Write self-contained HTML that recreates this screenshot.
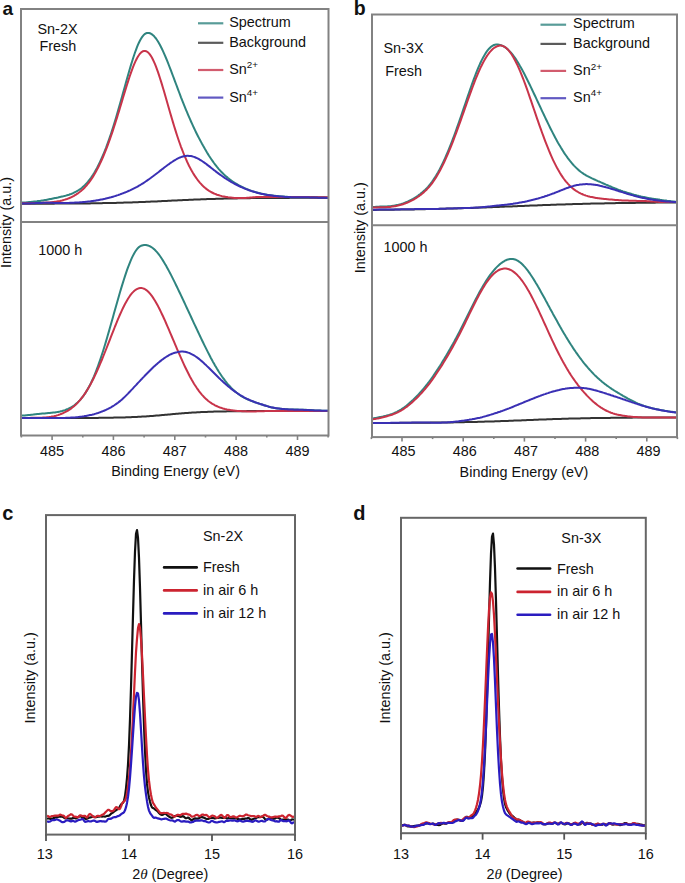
<!DOCTYPE html>
<html><head><meta charset="utf-8"><style>
html,body{margin:0;padding:0;background:#fff;}
svg{display:block;font-family:"Liberation Sans", sans-serif;fill:#000;}
text{fill:#111;}
</style></head><body>
<svg width="685" height="883" viewBox="0 0 685 883"><rect width="685" height="883" fill="#fff"/><path d="M21.0 202.7L22.0 202.6L23.0 202.6L24.0 202.5L25.0 202.4L26.0 202.4L27.0 202.3L28.0 202.2L29.0 202.1L30.0 202.0L31.0 201.9L32.0 201.8L33.0 201.7L34.0 201.6L35.0 201.5L36.0 201.4L37.0 201.3L38.0 201.1L39.0 201.0L40.0 200.9L41.0 200.7L42.0 200.5L43.0 200.4L44.0 200.2L45.0 200.0L46.0 199.9L47.0 199.7L48.0 199.5L49.0 199.3L50.0 199.1L51.0 198.9L52.0 198.7L53.0 198.5L54.0 198.3L55.0 198.1L56.0 197.9L57.0 197.7L58.0 197.5L59.0 197.2L60.0 197.0L61.0 196.8L62.0 196.6L63.0 196.4L64.0 196.1L65.0 195.9L66.0 195.6L67.0 195.3L68.0 195.0L69.0 194.7L70.0 194.3L71.0 194.0L72.0 193.6L73.0 193.2L74.0 192.7L75.0 192.2L76.0 191.7L77.0 191.1L78.0 190.5L79.0 189.9L80.0 189.2L81.0 188.5L82.0 187.7L83.0 186.8L84.0 185.9L85.0 185.0L86.0 183.9L87.0 182.8L88.0 181.7L89.0 180.4L90.0 179.1L91.0 177.8L92.0 176.3L93.0 174.8L94.0 173.2L95.0 171.5L96.0 169.7L97.0 167.9L98.0 166.0L99.0 164.0L100.0 161.9L101.0 159.7L102.0 157.5L103.0 155.2L104.0 152.8L105.0 150.3L106.0 147.8L107.0 145.1L108.0 142.4L109.0 139.6L110.0 136.7L111.0 133.7L112.0 130.6L113.0 127.5L114.0 124.3L115.0 121.0L116.0 117.7L117.0 114.3L118.0 110.8L119.0 107.4L120.0 103.8L121.0 100.3L122.0 96.7L123.0 93.1L124.0 89.5L125.0 85.9L126.0 82.3L127.0 78.7L128.0 75.2L129.0 71.7L130.0 68.3L131.0 64.9L132.0 61.7L133.0 58.5L134.0 55.5L135.0 52.5L136.0 49.8L137.0 47.2L138.0 44.7L139.0 42.5L140.0 40.5L141.0 38.7L142.0 37.1L143.0 35.8L144.0 34.7L145.0 33.9L146.0 33.3L147.0 33.0L148.0 32.9L149.0 33.0L150.0 33.3L151.0 33.7L152.0 34.4L153.0 35.2L154.0 36.1L155.0 37.3L156.0 38.5L157.0 40.0L158.0 41.5L159.0 43.2L160.0 45.0L161.0 47.0L162.0 49.0L163.0 51.1L164.0 53.3L165.0 55.6L166.0 58.0L167.0 60.4L168.0 62.9L169.0 65.5L170.0 68.1L171.0 70.7L172.0 73.3L173.0 76.0L174.0 78.7L175.0 81.3L176.0 84.0L177.0 86.7L178.0 89.4L179.0 92.0L180.0 94.6L181.0 97.3L182.0 99.8L183.0 102.4L184.0 104.9L185.0 107.4L186.0 109.8L187.0 112.2L188.0 114.6L189.0 116.9L190.0 119.2L191.0 121.5L192.0 123.7L193.0 125.9L194.0 128.0L195.0 130.1L196.0 132.2L197.0 134.2L198.0 136.2L199.0 138.1L200.0 140.0L201.0 141.9L202.0 143.8L203.0 145.6L204.0 147.3L205.0 149.1L206.0 150.8L207.0 152.5L208.0 154.1L209.0 155.7L210.0 157.2L211.0 158.7L212.0 160.2L213.0 161.6L214.0 163.0L215.0 164.3L216.0 165.6L217.0 166.9L218.0 168.1L219.0 169.3L220.0 170.4L221.0 171.5L222.0 172.5L223.0 173.5L224.0 174.5L225.0 175.4L226.0 176.3L227.0 177.1L228.0 178.0L229.0 178.8L230.0 179.6L231.0 180.3L232.0 181.0L233.0 181.7L234.0 182.4L235.0 183.0L236.0 183.6L237.0 184.2L238.0 184.8L239.0 185.4L240.0 185.9L241.0 186.4L242.0 186.9L243.0 187.4L244.0 187.9L245.0 188.3L246.0 188.8L247.0 189.2L248.0 189.6L249.0 190.0L250.0 190.4L251.0 190.7L252.0 191.1L253.0 191.4L254.0 191.7L255.0 192.0L256.0 192.3L257.0 192.6L258.0 192.8L259.0 193.1L260.0 193.3L261.0 193.6L262.0 193.8L263.0 194.0L264.0 194.2L265.0 194.4L266.0 194.5L267.0 194.7L268.0 194.9L269.0 195.0L270.0 195.2L271.0 195.3L272.0 195.5L273.0 195.6L274.0 195.7L275.0 195.8L276.0 195.9L277.0 196.0L278.0 196.1L279.0 196.2L280.0 196.3L281.0 196.4L282.0 196.5L283.0 196.6L284.0 196.6L285.0 196.7L286.0 196.8L287.0 196.8L288.0 196.9L289.0 196.9L290.0 197.0L291.0 197.0L292.0 197.0L293.0 197.1L294.0 197.1L295.0 197.1L296.0 197.1L297.0 197.1L298.0 197.1L299.0 197.1L300.0 197.1L301.0 197.1L302.0 197.0L303.0 197.0L304.0 197.0L305.0 196.9L306.0 196.9L307.0 196.9L308.0 196.9L309.0 196.9L310.0 196.9L311.0 197.0L312.0 197.0L313.0 197.1L314.0 197.1L315.0 197.2L316.0 197.3L317.0 197.3L318.0 197.4L319.0 197.4L320.0 197.5L321.0 197.5L322.0 197.6L323.0 197.6L324.0 197.6L325.0 197.7L326.0 197.7L327.0 197.7L328.0 197.7" fill="none" stroke="#2f847f" stroke-width="2" stroke-linejoin="round"/><path d="M21.0 203.7L22.0 203.7L23.0 203.7L24.0 203.7L25.0 203.7L26.0 203.7L27.0 203.7L28.0 203.7L29.0 203.7L30.0 203.7L31.0 203.7L32.0 203.7L33.0 203.7L34.0 203.7L35.0 203.7L36.0 203.7L37.0 203.7L38.0 203.7L39.0 203.7L40.0 203.7L41.0 203.7L42.0 203.7L43.0 203.7L44.0 203.7L45.0 203.7L46.0 203.7L47.0 203.7L48.0 203.7L49.0 203.7L50.0 203.7L51.0 203.7L52.0 203.7L53.0 203.7L54.0 203.7L55.0 203.6L56.0 203.6L57.0 203.6L58.0 203.6L59.0 203.6L60.0 203.6L61.0 203.6L62.0 203.6L63.0 203.6L64.0 203.6L65.0 203.6L66.0 203.6L67.0 203.6L68.0 203.6L69.0 203.6L70.0 203.6L71.0 203.5L72.0 203.5L73.0 203.5L74.0 203.5L75.0 203.5L76.0 203.5L77.0 203.5L78.0 203.5L79.0 203.5L80.0 203.5L81.0 203.5L82.0 203.4L83.0 203.4L84.0 203.4L85.0 203.4L86.0 203.4L87.0 203.4L88.0 203.4L89.0 203.4L90.0 203.4L91.0 203.3L92.0 203.3L93.0 203.3L94.0 203.3L95.0 203.3L96.0 203.3L97.0 203.3L98.0 203.2L99.0 203.2L100.0 203.2L101.0 203.2L102.0 203.2L103.0 203.1L104.0 203.1L105.0 203.1L106.0 203.1L107.0 203.1L108.0 203.0L109.0 203.0L110.0 203.0L111.0 203.0L112.0 203.0L113.0 202.9L114.0 202.9L115.0 202.9L116.0 202.9L117.0 202.8L118.0 202.8L119.0 202.8L120.0 202.8L121.0 202.7L122.0 202.7L123.0 202.7L124.0 202.6L125.0 202.6L126.0 202.6L127.0 202.5L128.0 202.5L129.0 202.5L130.0 202.5L131.0 202.4L132.0 202.4L133.0 202.3L134.0 202.3L135.0 202.3L136.0 202.2L137.0 202.2L138.0 202.2L139.0 202.1L140.0 202.1L141.0 202.0L142.0 202.0L143.0 202.0L144.0 201.9L145.0 201.9L146.0 201.8L147.0 201.8L148.0 201.8L149.0 201.7L150.0 201.7L151.0 201.6L152.0 201.6L153.0 201.5L154.0 201.5L155.0 201.4L156.0 201.4L157.0 201.4L158.0 201.3L159.0 201.3L160.0 201.2L161.0 201.2L162.0 201.1L163.0 201.1L164.0 201.0L165.0 201.0L166.0 200.9L167.0 200.9L168.0 200.8L169.0 200.8L170.0 200.7L171.0 200.7L172.0 200.6L173.0 200.6L174.0 200.5L175.0 200.5L176.0 200.4L177.0 200.4L178.0 200.3L179.0 200.3L180.0 200.2L181.0 200.2L182.0 200.2L183.0 200.1L184.0 200.1L185.0 200.0L186.0 200.0L187.0 199.9L188.0 199.9L189.0 199.8L190.0 199.8L191.0 199.7L192.0 199.7L193.0 199.7L194.0 199.6L195.0 199.6L196.0 199.5L197.0 199.5L198.0 199.5L199.0 199.4L200.0 199.4L201.0 199.3L202.0 199.3L203.0 199.3L204.0 199.2L205.0 199.2L206.0 199.2L207.0 199.1L208.0 199.1L209.0 199.1L210.0 199.0L211.0 199.0L212.0 199.0L213.0 198.9L214.0 198.9L215.0 198.9L216.0 198.8L217.0 198.8L218.0 198.8L219.0 198.8L220.0 198.7L221.0 198.7L222.0 198.7L223.0 198.7L224.0 198.6L225.0 198.6L226.0 198.6L227.0 198.6L228.0 198.5L229.0 198.5L230.0 198.5L231.0 198.5L232.0 198.4L233.0 198.4L234.0 198.4L235.0 198.4L236.0 198.4L237.0 198.4L238.0 198.3L239.0 198.3L240.0 198.3L241.0 198.3L242.0 198.3L243.0 198.3L244.0 198.2L245.0 198.2L246.0 198.2L247.0 198.2L248.0 198.2L249.0 198.2L250.0 198.2L251.0 198.1L252.0 198.1L253.0 198.1L254.0 198.1L255.0 198.1L256.0 198.1L257.0 198.1L258.0 198.1L259.0 198.1L260.0 198.0L261.0 198.0L262.0 198.0L263.0 198.0L264.0 198.0L265.0 198.0L266.0 198.0L267.0 198.0L268.0 198.0L269.0 198.0L270.0 198.0L271.0 197.9L272.0 197.9L273.0 197.9L274.0 197.9L275.0 197.9L276.0 197.9L277.0 197.9L278.0 197.9L279.0 197.9L280.0 197.9L281.0 197.9L282.0 197.9L283.0 197.9L284.0 197.9L285.0 197.9L286.0 197.9L287.0 197.9L288.0 197.9L289.0 197.9L290.0 197.8L291.0 197.8L292.0 197.8L293.0 197.8L294.0 197.8L295.0 197.8L296.0 197.8L297.0 197.8L298.0 197.8L299.0 197.8L300.0 197.8L301.0 197.8L302.0 197.8L303.0 197.8L304.0 197.8L305.0 197.8L306.0 197.8L307.0 197.8L308.0 197.8L309.0 197.8L310.0 197.8L311.0 197.8L312.0 197.8L313.0 197.8L314.0 197.8L315.0 197.8L316.0 197.8L317.0 197.8L318.0 197.8L319.0 197.8L320.0 197.8L321.0 197.8L322.0 197.8L323.0 197.8L324.0 197.8L325.0 197.8L326.0 197.8L327.0 197.8L328.0 197.8" fill="none" stroke="#333333" stroke-width="2" stroke-linejoin="round"/><path d="M21.0 203.3L22.0 203.3L23.0 203.3L24.0 203.3L25.0 203.3L26.0 203.3L27.0 203.2L28.0 203.2L29.0 203.2L30.0 203.2L31.0 203.2L32.0 203.1L33.0 203.1L34.0 203.1L35.0 203.1L36.0 203.0L37.0 203.0L38.0 203.0L39.0 202.9L40.0 202.9L41.0 202.9L42.0 202.8L43.0 202.8L44.0 202.7L45.0 202.7L46.0 202.6L47.0 202.6L48.0 202.5L49.0 202.4L50.0 202.4L51.0 202.3L52.0 202.2L53.0 202.1L54.0 202.0L55.0 201.8L56.0 201.7L57.0 201.5L58.0 201.3L59.0 201.2L60.0 201.0L61.0 200.7L62.0 200.5L63.0 200.2L64.0 199.9L65.0 199.6L66.0 199.3L67.0 199.0L68.0 198.6L69.0 198.2L70.0 197.8L71.0 197.3L72.0 196.8L73.0 196.3L74.0 195.8L75.0 195.2L76.0 194.6L77.0 193.9L78.0 193.3L79.0 192.5L80.0 191.8L81.0 191.0L82.0 190.1L83.0 189.2L84.0 188.2L85.0 187.2L86.0 186.1L87.0 185.0L88.0 183.7L89.0 182.5L90.0 181.1L91.0 179.7L92.0 178.2L93.0 176.6L94.0 175.0L95.0 173.3L96.0 171.5L97.0 169.6L98.0 167.7L99.0 165.7L100.0 163.6L101.0 161.5L102.0 159.3L103.0 157.0L104.0 154.6L105.0 152.1L106.0 149.6L107.0 147.1L108.0 144.4L109.0 141.7L110.0 138.9L111.0 136.0L112.0 133.1L113.0 130.1L114.0 127.0L115.0 123.9L116.0 120.8L117.0 117.6L118.0 114.3L119.0 111.1L120.0 107.8L121.0 104.5L122.0 101.1L123.0 97.8L124.0 94.5L125.0 91.2L126.0 88.0L127.0 84.8L128.0 81.6L129.0 78.5L130.0 75.5L131.0 72.6L132.0 69.9L133.0 67.2L134.0 64.7L135.0 62.4L136.0 60.2L137.0 58.2L138.0 56.5L139.0 55.0L140.0 53.7L141.0 52.6L142.0 51.8L143.0 51.2L144.0 51.0L145.0 50.9L146.0 51.2L147.0 51.7L148.0 52.4L149.0 53.4L150.0 54.7L151.0 56.1L152.0 57.8L153.0 59.8L154.0 61.9L155.0 64.2L156.0 66.7L157.0 69.4L158.0 72.2L159.0 75.1L160.0 78.2L161.0 81.4L162.0 84.6L163.0 88.0L164.0 91.3L165.0 94.8L166.0 98.3L167.0 101.8L168.0 105.2L169.0 108.7L170.0 112.2L171.0 115.6L172.0 119.1L173.0 122.4L174.0 125.7L175.0 128.9L176.0 132.1L177.0 135.2L178.0 138.2L179.0 141.2L180.0 144.0L181.0 146.8L182.0 149.4L183.0 152.0L184.0 154.5L185.0 156.9L186.0 159.2L187.0 161.5L188.0 163.6L189.0 165.7L190.0 167.6L191.0 169.5L192.0 171.3L193.0 173.0L194.0 174.6L195.0 176.2L196.0 177.6L197.0 179.0L198.0 180.4L199.0 181.6L200.0 182.8L201.0 183.9L202.0 185.0L203.0 186.0L204.0 186.9L205.0 187.8L206.0 188.6L207.0 189.4L208.0 190.1L209.0 190.8L210.0 191.4L211.0 192.0L212.0 192.5L213.0 193.0L214.0 193.5L215.0 193.9L216.0 194.3L217.0 194.7L218.0 195.0L219.0 195.3L220.0 195.6L221.0 195.9L222.0 196.2L223.0 196.4L224.0 196.6L225.0 196.8L226.0 197.0L227.0 197.1L228.0 197.3L229.0 197.4L230.0 197.5L231.0 197.6L232.0 197.7L233.0 197.8L234.0 197.9L235.0 197.9L236.0 198.0L237.0 198.0L238.0 198.0L239.0 198.1L240.0 198.1L241.0 198.1L242.0 198.1L243.0 198.0L244.0 198.0L245.0 198.0L246.0 197.9L247.0 197.8L248.0 197.8L249.0 197.7L250.0 197.6L251.0 197.5L252.0 197.4L253.0 197.3L254.0 197.3L255.0 197.2L256.0 197.1L257.0 197.0L258.0 197.0L259.0 197.0L260.0 196.9L261.0 196.9L262.0 196.9L263.0 196.9L264.0 196.9L265.0 196.9L266.0 196.9L267.0 196.9L268.0 196.9L269.0 196.9L270.0 196.9L271.0 196.9L272.0 196.9L273.0 196.9L274.0 196.9L275.0 196.9L276.0 196.9L277.0 196.9L278.0 196.9L279.0 196.9L280.0 197.0L281.0 197.0L282.0 197.0L283.0 197.0L284.0 197.0L285.0 197.0L286.0 197.0L287.0 197.0L288.0 197.0L289.0 197.0L290.0 197.0L291.0 197.0L292.0 197.0L293.0 197.0L294.0 197.1L295.0 197.1L296.0 197.1L297.0 197.1L298.0 197.1L299.0 197.1L300.0 197.1L301.0 197.1L302.0 197.1L303.0 197.1L304.0 197.1L305.0 197.1L306.0 197.1L307.0 197.1L308.0 197.1L309.0 197.1L310.0 197.1L311.0 197.2L312.0 197.2L313.0 197.2L314.0 197.2L315.0 197.2L316.0 197.2L317.0 197.2L318.0 197.2L319.0 197.2L320.0 197.2L321.0 197.2L322.0 197.2L323.0 197.2L324.0 197.2L325.0 197.2L326.0 197.2L327.0 197.2L328.0 197.2" fill="none" stroke="#c8344a" stroke-width="2" stroke-linejoin="round"/><path d="M21.0 203.5L22.0 203.5L23.0 203.5L24.0 203.5L25.0 203.5L26.0 203.5L27.0 203.4L28.0 203.4L29.0 203.4L30.0 203.4L31.0 203.3L32.0 203.3L33.0 203.3L34.0 203.2L35.0 203.2L36.0 203.1L37.0 203.1L38.0 203.1L39.0 203.0L40.0 203.0L41.0 202.9L42.0 202.9L43.0 202.8L44.0 202.8L45.0 202.8L46.0 202.7L47.0 202.7L48.0 202.7L49.0 202.7L50.0 202.7L51.0 202.8L52.0 202.8L53.0 202.8L54.0 202.9L55.0 202.9L56.0 202.9L57.0 202.9L58.0 203.0L59.0 203.0L60.0 203.0L61.0 203.0L62.0 203.0L63.0 203.0L64.0 203.0L65.0 203.0L66.0 202.9L67.0 202.9L68.0 202.9L69.0 202.9L70.0 202.8L71.0 202.8L72.0 202.8L73.0 202.7L74.0 202.7L75.0 202.6L76.0 202.6L77.0 202.5L78.0 202.4L79.0 202.4L80.0 202.3L81.0 202.2L82.0 202.2L83.0 202.1L84.0 202.0L85.0 201.9L86.0 201.8L87.0 201.7L88.0 201.6L89.0 201.5L90.0 201.4L91.0 201.2L92.0 201.1L93.0 201.0L94.0 200.8L95.0 200.7L96.0 200.5L97.0 200.3L98.0 200.2L99.0 200.0L100.0 199.8L101.0 199.6L102.0 199.4L103.0 199.2L104.0 199.0L105.0 198.8L106.0 198.5L107.0 198.3L108.0 198.1L109.0 197.8L110.0 197.5L111.0 197.3L112.0 197.0L113.0 196.7L114.0 196.4L115.0 196.1L116.0 195.8L117.0 195.4L118.0 195.1L119.0 194.7L120.0 194.4L121.0 194.0L122.0 193.6L123.0 193.3L124.0 192.9L125.0 192.5L126.0 192.1L127.0 191.7L128.0 191.2L129.0 190.8L130.0 190.4L131.0 189.9L132.0 189.4L133.0 188.9L134.0 188.4L135.0 187.9L136.0 187.4L137.0 186.9L138.0 186.3L139.0 185.7L140.0 185.2L141.0 184.5L142.0 183.9L143.0 183.3L144.0 182.7L145.0 182.0L146.0 181.3L147.0 180.6L148.0 179.9L149.0 179.2L150.0 178.5L151.0 177.8L152.0 177.0L153.0 176.3L154.0 175.5L155.0 174.8L156.0 174.0L157.0 173.2L158.0 172.5L159.0 171.7L160.0 170.9L161.0 170.1L162.0 169.3L163.0 168.6L164.0 167.8L165.0 167.0L166.0 166.3L167.0 165.5L168.0 164.8L169.0 164.1L170.0 163.3L171.0 162.6L172.0 162.0L173.0 161.3L174.0 160.7L175.0 160.1L176.0 159.5L177.0 158.9L178.0 158.4L179.0 157.9L180.0 157.5L181.0 157.1L182.0 156.8L183.0 156.5L184.0 156.2L185.0 156.0L186.0 155.9L187.0 155.8L188.0 155.8L189.0 155.9L190.0 155.9L191.0 156.1L192.0 156.3L193.0 156.6L194.0 156.9L195.0 157.3L196.0 157.7L197.0 158.1L198.0 158.6L199.0 159.2L200.0 159.8L201.0 160.4L202.0 161.0L203.0 161.7L204.0 162.4L205.0 163.1L206.0 163.8L207.0 164.6L208.0 165.4L209.0 166.1L210.0 166.9L211.0 167.7L212.0 168.5L213.0 169.3L214.0 170.1L215.0 170.8L216.0 171.6L217.0 172.4L218.0 173.1L219.0 173.9L220.0 174.6L221.0 175.3L222.0 176.0L223.0 176.7L224.0 177.4L225.0 178.1L226.0 178.7L227.0 179.4L228.0 180.0L229.0 180.6L230.0 181.2L231.0 181.8L232.0 182.4L233.0 182.9L234.0 183.5L235.0 184.0L236.0 184.5L237.0 185.0L238.0 185.5L239.0 186.0L240.0 186.5L241.0 187.0L242.0 187.4L243.0 187.8L244.0 188.2L245.0 188.7L246.0 189.1L247.0 189.4L248.0 189.8L249.0 190.2L250.0 190.5L251.0 190.9L252.0 191.2L253.0 191.5L254.0 191.8L255.0 192.1L256.0 192.4L257.0 192.7L258.0 193.0L259.0 193.2L260.0 193.4L261.0 193.7L262.0 193.9L263.0 194.1L264.0 194.3L265.0 194.5L266.0 194.7L267.0 194.9L268.0 195.0L269.0 195.2L270.0 195.3L271.0 195.5L272.0 195.6L273.0 195.7L274.0 195.9L275.0 196.0L276.0 196.1L277.0 196.2L278.0 196.3L279.0 196.4L280.0 196.5L281.0 196.6L282.0 196.6L283.0 196.7L284.0 196.8L285.0 196.9L286.0 196.9L287.0 197.0L288.0 197.0L289.0 197.1L290.0 197.1L291.0 197.2L292.0 197.2L293.0 197.2L294.0 197.3L295.0 197.3L296.0 197.3L297.0 197.3L298.0 197.3L299.0 197.3L300.0 197.3L301.0 197.3L302.0 197.3L303.0 197.3L304.0 197.3L305.0 197.3L306.0 197.3L307.0 197.3L308.0 197.3L309.0 197.3L310.0 197.4L311.0 197.4L312.0 197.4L313.0 197.5L314.0 197.5L315.0 197.5L316.0 197.6L317.0 197.6L318.0 197.7L319.0 197.7L320.0 197.7L321.0 197.7L322.0 197.8L323.0 197.8L324.0 197.8L325.0 197.8L326.0 197.8L327.0 197.9L328.0 197.9" fill="none" stroke="#3a30b4" stroke-width="2" stroke-linejoin="round"/><path d="M21.0 415.7L22.0 415.6L23.0 415.5L24.0 415.5L25.0 415.4L26.0 415.3L27.0 415.2L28.0 415.1L29.0 415.0L30.0 414.9L31.0 414.8L32.0 414.7L33.0 414.6L34.0 414.4L35.0 414.3L36.0 414.2L37.0 414.1L38.0 414.0L39.0 413.9L40.0 413.8L41.0 413.7L42.0 413.6L43.0 413.5L44.0 413.4L45.0 413.4L46.0 413.3L47.0 413.2L48.0 413.1L49.0 413.0L50.0 412.9L51.0 412.8L52.0 412.7L53.0 412.6L54.0 412.5L55.0 412.4L56.0 412.2L57.0 412.1L58.0 411.9L59.0 411.7L60.0 411.5L61.0 411.2L62.0 411.0L63.0 410.7L64.0 410.4L65.0 410.1L66.0 409.7L67.0 409.3L68.0 408.9L69.0 408.4L70.0 407.9L71.0 407.4L72.0 406.8L73.0 406.2L74.0 405.5L75.0 404.7L76.0 403.9L77.0 403.1L78.0 402.1L79.0 401.1L80.0 400.1L81.0 398.9L82.0 397.7L83.0 396.4L84.0 395.0L85.0 393.6L86.0 392.0L87.0 390.4L88.0 388.6L89.0 386.8L90.0 384.9L91.0 382.9L92.0 380.8L93.0 378.6L94.0 376.3L95.0 373.8L96.0 371.3L97.0 368.7L98.0 366.0L99.0 363.2L100.0 360.3L101.0 357.4L102.0 354.3L103.0 351.2L104.0 348.0L105.0 344.7L106.0 341.4L107.0 338.0L108.0 334.5L109.0 331.1L110.0 327.6L111.0 324.0L112.0 320.5L113.0 316.9L114.0 313.3L115.0 309.8L116.0 306.2L117.0 302.7L118.0 299.2L119.0 295.7L120.0 292.3L121.0 288.9L122.0 285.6L123.0 282.4L124.0 279.2L125.0 276.1L126.0 273.1L127.0 270.2L128.0 267.4L129.0 264.8L130.0 262.3L131.0 259.9L132.0 257.7L133.0 255.6L134.0 253.7L135.0 252.0L136.0 250.5L137.0 249.1L138.0 248.0L139.0 247.1L140.0 246.3L141.0 245.8L142.0 245.5L143.0 245.2L144.0 245.1L145.0 245.1L146.0 245.1L147.0 245.3L148.0 245.5L149.0 245.9L150.0 246.3L151.0 246.9L152.0 247.5L153.0 248.3L154.0 249.1L155.0 250.0L156.0 251.1L157.0 252.2L158.0 253.4L159.0 254.7L160.0 256.0L161.0 257.5L162.0 259.0L163.0 260.6L164.0 262.2L165.0 263.9L166.0 265.6L167.0 267.4L168.0 269.2L169.0 271.1L170.0 273.0L171.0 274.9L172.0 276.9L173.0 278.9L174.0 280.9L175.0 282.9L176.0 285.0L177.0 287.0L178.0 289.1L179.0 291.2L180.0 293.3L181.0 295.4L182.0 297.5L183.0 299.7L184.0 301.8L185.0 303.9L186.0 306.1L187.0 308.2L188.0 310.4L189.0 312.5L190.0 314.7L191.0 316.8L192.0 319.0L193.0 321.1L194.0 323.3L195.0 325.4L196.0 327.5L197.0 329.7L198.0 331.8L199.0 333.9L200.0 336.0L201.0 338.1L202.0 340.2L203.0 342.3L204.0 344.4L205.0 346.4L206.0 348.4L207.0 350.4L208.0 352.4L209.0 354.3L210.0 356.3L211.0 358.2L212.0 360.0L213.0 361.9L214.0 363.6L215.0 365.4L216.0 367.1L217.0 368.8L218.0 370.4L219.0 372.0L220.0 373.5L221.0 375.0L222.0 376.5L223.0 377.9L224.0 379.2L225.0 380.6L226.0 381.8L227.0 383.1L228.0 384.3L229.0 385.4L230.0 386.5L231.0 387.6L232.0 388.6L233.0 389.6L234.0 390.5L235.0 391.4L236.0 392.2L237.0 393.0L238.0 393.8L239.0 394.5L240.0 395.2L241.0 395.9L242.0 396.5L243.0 397.0L244.0 397.6L245.0 398.1L246.0 398.6L247.0 399.1L248.0 399.5L249.0 399.9L250.0 400.4L251.0 400.8L252.0 401.1L253.0 401.5L254.0 401.9L255.0 402.2L256.0 402.6L257.0 402.9L258.0 403.2L259.0 403.6L260.0 403.9L261.0 404.2L262.0 404.5L263.0 404.9L264.0 405.2L265.0 405.5L266.0 405.8L267.0 406.1L268.0 406.4L269.0 406.7L270.0 407.0L271.0 407.3L272.0 407.5L273.0 407.7L274.0 407.9L275.0 408.1L276.0 408.2L277.0 408.4L278.0 408.5L279.0 408.6L280.0 408.7L281.0 408.8L282.0 408.9L283.0 409.0L284.0 409.1L285.0 409.2L286.0 409.2L287.0 409.3L288.0 409.3L289.0 409.4L290.0 409.4L291.0 409.5L292.0 409.5L293.0 409.5L294.0 409.6L295.0 409.6L296.0 409.6L297.0 409.6L298.0 409.6L299.0 409.7L300.0 409.7L301.0 409.7L302.0 409.7L303.0 409.7L304.0 409.7L305.0 409.8L306.0 409.8L307.0 409.9L308.0 409.9L309.0 410.0L310.0 410.1L311.0 410.1L312.0 410.2L313.0 410.3L314.0 410.3L315.0 410.4L316.0 410.4L317.0 410.5L318.0 410.5L319.0 410.6L320.0 410.6L321.0 410.6L322.0 410.7L323.0 410.7L324.0 410.7L325.0 410.7L326.0 410.7L327.0 410.8L328.0 410.8" fill="none" stroke="#2f847f" stroke-width="2" stroke-linejoin="round"/><path d="M21.0 418.0L22.0 418.0L23.0 418.0L24.0 418.0L25.0 418.0L26.0 418.0L27.0 418.0L28.0 418.0L29.0 418.0L30.0 418.0L31.0 418.0L32.0 418.0L33.0 418.0L34.0 418.0L35.0 418.0L36.0 418.0L37.0 418.0L38.0 418.0L39.0 418.0L40.0 418.0L41.0 418.0L42.0 418.0L43.0 418.0L44.0 418.0L45.0 418.0L46.0 418.0L47.0 418.0L48.0 418.0L49.0 418.0L50.0 418.0L51.0 418.0L52.0 418.0L53.0 418.0L54.0 418.0L55.0 418.0L56.0 418.0L57.0 418.0L58.0 418.0L59.0 418.0L60.0 418.0L61.0 418.0L62.0 418.0L63.0 418.0L64.0 418.0L65.0 418.0L66.0 418.0L67.0 418.0L68.0 418.0L69.0 418.0L70.0 418.0L71.0 418.0L72.0 418.0L73.0 418.0L74.0 418.0L75.0 418.0L76.0 418.0L77.0 418.0L78.0 418.0L79.0 418.0L80.0 418.0L81.0 418.0L82.0 418.0L83.0 418.0L84.0 417.9L85.0 417.9L86.0 417.9L87.0 417.9L88.0 417.9L89.0 417.9L90.0 417.9L91.0 417.9L92.0 417.9L93.0 417.9L94.0 417.9L95.0 417.9L96.0 417.9L97.0 417.9L98.0 417.9L99.0 417.8L100.0 417.8L101.0 417.8L102.0 417.8L103.0 417.8L104.0 417.8L105.0 417.8L106.0 417.8L107.0 417.8L108.0 417.7L109.0 417.7L110.0 417.7L111.0 417.7L112.0 417.7L113.0 417.7L114.0 417.6L115.0 417.6L116.0 417.6L117.0 417.6L118.0 417.6L119.0 417.5L120.0 417.5L121.0 417.5L122.0 417.5L123.0 417.4L124.0 417.4L125.0 417.4L126.0 417.3L127.0 417.3L128.0 417.3L129.0 417.2L130.0 417.2L131.0 417.2L132.0 417.1L133.0 417.1L134.0 417.0L135.0 417.0L136.0 416.9L137.0 416.9L138.0 416.8L139.0 416.8L140.0 416.7L141.0 416.7L142.0 416.6L143.0 416.6L144.0 416.5L145.0 416.4L146.0 416.4L147.0 416.3L148.0 416.2L149.0 416.2L150.0 416.1L151.0 416.0L152.0 415.9L153.0 415.9L154.0 415.8L155.0 415.7L156.0 415.6L157.0 415.5L158.0 415.5L159.0 415.4L160.0 415.3L161.0 415.2L162.0 415.1L163.0 415.0L164.0 414.9L165.0 414.8L166.0 414.7L167.0 414.7L168.0 414.6L169.0 414.5L170.0 414.4L171.0 414.3L172.0 414.2L173.0 414.1L174.0 414.0L175.0 413.9L176.0 413.8L177.0 413.8L178.0 413.7L179.0 413.6L180.0 413.5L181.0 413.4L182.0 413.3L183.0 413.3L184.0 413.2L185.0 413.1L186.0 413.0L187.0 412.9L188.0 412.9L189.0 412.8L190.0 412.7L191.0 412.7L192.0 412.6L193.0 412.5L194.0 412.5L195.0 412.4L196.0 412.4L197.0 412.3L198.0 412.3L199.0 412.2L200.0 412.2L201.0 412.1L202.0 412.1L203.0 412.0L204.0 412.0L205.0 411.9L206.0 411.9L207.0 411.9L208.0 411.8L209.0 411.8L210.0 411.7L211.0 411.7L212.0 411.7L213.0 411.7L214.0 411.6L215.0 411.6L216.0 411.6L217.0 411.5L218.0 411.5L219.0 411.5L220.0 411.5L221.0 411.5L222.0 411.4L223.0 411.4L224.0 411.4L225.0 411.4L226.0 411.4L227.0 411.3L228.0 411.3L229.0 411.3L230.0 411.3L231.0 411.3L232.0 411.3L233.0 411.3L234.0 411.3L235.0 411.2L236.0 411.2L237.0 411.2L238.0 411.2L239.0 411.2L240.0 411.2L241.0 411.2L242.0 411.2L243.0 411.2L244.0 411.2L245.0 411.2L246.0 411.2L247.0 411.1L248.0 411.1L249.0 411.1L250.0 411.1L251.0 411.1L252.0 411.1L253.0 411.1L254.0 411.1L255.0 411.1L256.0 411.1L257.0 411.1L258.0 411.1L259.0 411.1L260.0 411.1L261.0 411.1L262.0 411.1L263.0 411.1L264.0 411.1L265.0 411.1L266.0 411.1L267.0 411.1L268.0 411.1L269.0 411.1L270.0 411.1L271.0 411.1L272.0 411.1L273.0 411.1L274.0 411.1L275.0 411.1L276.0 411.1L277.0 411.1L278.0 411.1L279.0 411.1L280.0 411.1L281.0 411.1L282.0 411.1L283.0 411.1L284.0 411.0L285.0 411.0L286.0 411.0L287.0 411.0L288.0 411.0L289.0 411.0L290.0 411.0L291.0 411.0L292.0 411.0L293.0 411.0L294.0 411.0L295.0 411.0L296.0 411.0L297.0 411.0L298.0 411.0L299.0 411.0L300.0 411.0L301.0 411.0L302.0 411.0L303.0 411.0L304.0 411.0L305.0 411.0L306.0 411.0L307.0 411.0L308.0 411.0L309.0 411.0L310.0 411.0L311.0 411.0L312.0 411.0L313.0 411.0L314.0 411.0L315.0 411.0L316.0 411.0L317.0 411.0L318.0 411.0L319.0 411.0L320.0 411.0L321.0 411.0L322.0 411.0L323.0 411.0L324.0 411.0L325.0 411.0L326.0 411.0L327.0 411.0L328.0 411.0" fill="none" stroke="#333333" stroke-width="2" stroke-linejoin="round"/><path d="M21.0 418.0L22.0 417.9L23.0 417.9L24.0 417.9L25.0 417.9L26.0 417.9L27.0 417.9L28.0 417.9L29.0 417.9L30.0 417.9L31.0 417.8L32.0 417.8L33.0 417.8L34.0 417.8L35.0 417.8L36.0 417.8L37.0 417.8L38.0 417.8L39.0 417.8L40.0 417.8L41.0 417.7L42.0 417.7L43.0 417.6L44.0 417.6L45.0 417.5L46.0 417.4L47.0 417.3L48.0 417.2L49.0 417.1L50.0 416.9L51.0 416.8L52.0 416.6L53.0 416.4L54.0 416.2L55.0 415.9L56.0 415.7L57.0 415.4L58.0 415.1L59.0 414.7L60.0 414.4L61.0 414.0L62.0 413.6L63.0 413.2L64.0 412.7L65.0 412.2L66.0 411.7L67.0 411.1L68.0 410.6L69.0 409.9L70.0 409.3L71.0 408.6L72.0 407.8L73.0 407.0L74.0 406.2L75.0 405.3L76.0 404.4L77.0 403.4L78.0 402.3L79.0 401.2L80.0 400.1L81.0 398.9L82.0 397.6L83.0 396.3L84.0 394.9L85.0 393.5L86.0 391.9L87.0 390.3L88.0 388.7L89.0 387.0L90.0 385.2L91.0 383.4L92.0 381.5L93.0 379.5L94.0 377.5L95.0 375.4L96.0 373.3L97.0 371.1L98.0 368.9L99.0 366.6L100.0 364.2L101.0 361.9L102.0 359.5L103.0 357.0L104.0 354.5L105.0 352.0L106.0 349.5L107.0 347.0L108.0 344.4L109.0 341.8L110.0 339.3L111.0 336.7L112.0 334.1L113.0 331.6L114.0 329.1L115.0 326.5L116.0 324.1L117.0 321.6L118.0 319.2L119.0 316.9L120.0 314.5L121.0 312.3L122.0 310.1L123.0 308.0L124.0 306.0L125.0 304.0L126.0 302.2L127.0 300.4L128.0 298.7L129.0 297.2L130.0 295.7L131.0 294.4L132.0 293.2L133.0 292.1L134.0 291.1L135.0 290.3L136.0 289.6L137.0 289.0L138.0 288.6L139.0 288.2L140.0 288.1L141.0 288.0L142.0 288.1L143.0 288.4L144.0 288.7L145.0 289.2L146.0 289.9L147.0 290.6L148.0 291.5L149.0 292.5L150.0 293.6L151.0 294.9L152.0 296.2L153.0 297.6L154.0 299.2L155.0 300.8L156.0 302.5L157.0 304.3L158.0 306.1L159.0 308.0L160.0 310.0L161.0 312.1L162.0 314.2L163.0 316.3L164.0 318.5L165.0 320.7L166.0 323.0L167.0 325.3L168.0 327.6L169.0 329.9L170.0 332.3L171.0 334.6L172.0 337.0L173.0 339.3L174.0 341.7L175.0 344.1L176.0 346.4L177.0 348.8L178.0 351.1L179.0 353.4L180.0 355.7L181.0 357.9L182.0 360.2L183.0 362.4L184.0 364.6L185.0 366.7L186.0 368.8L187.0 370.8L188.0 372.8L189.0 374.8L190.0 376.7L191.0 378.5L192.0 380.3L193.0 382.0L194.0 383.7L195.0 385.3L196.0 386.8L197.0 388.3L198.0 389.7L199.0 391.1L200.0 392.4L201.0 393.6L202.0 394.8L203.0 395.9L204.0 397.0L205.0 398.0L206.0 398.9L207.0 399.8L208.0 400.7L209.0 401.5L210.0 402.2L211.0 402.9L212.0 403.6L213.0 404.2L214.0 404.7L215.0 405.3L216.0 405.8L217.0 406.2L218.0 406.7L219.0 407.1L220.0 407.5L221.0 407.8L222.0 408.1L223.0 408.5L224.0 408.7L225.0 409.0L226.0 409.2L227.0 409.5L228.0 409.7L229.0 409.8L230.0 410.0L231.0 410.2L232.0 410.3L233.0 410.5L234.0 410.6L235.0 410.7L236.0 410.8L237.0 410.9L238.0 411.0L239.0 411.0L240.0 411.1L241.0 411.1L242.0 411.2L243.0 411.2L244.0 411.3L245.0 411.3L246.0 411.3L247.0 411.4L248.0 411.4L249.0 411.4L250.0 411.4L251.0 411.4L252.0 411.4L253.0 411.4L254.0 411.4L255.0 411.4L256.0 411.4L257.0 411.3L258.0 411.3L259.0 411.3L260.0 411.3L261.0 411.2L262.0 411.2L263.0 411.2L264.0 411.2L265.0 411.1L266.0 411.1L267.0 411.1L268.0 411.1L269.0 411.1L270.0 411.1L271.0 411.1L272.0 411.1L273.0 411.1L274.0 411.1L275.0 411.1L276.0 411.1L277.0 411.1L278.0 411.1L279.0 411.1L280.0 411.1L281.0 411.1L282.0 411.0L283.0 411.0L284.0 411.0L285.0 411.0L286.0 411.0L287.0 411.0L288.0 411.0L289.0 411.0L290.0 411.0L291.0 411.0L292.0 411.0L293.0 411.0L294.0 411.0L295.0 411.0L296.0 411.0L297.0 411.0L298.0 411.0L299.0 411.0L300.0 411.0L301.0 411.0L302.0 411.0L303.0 411.0L304.0 411.0L305.0 411.0L306.0 411.0L307.0 411.0L308.0 411.0L309.0 411.0L310.0 411.0L311.0 411.0L312.0 411.0L313.0 411.0L314.0 411.0L315.0 411.0L316.0 411.0L317.0 411.0L318.0 411.0L319.0 411.0L320.0 411.0L321.0 411.0L322.0 411.0L323.0 411.0L324.0 411.0L325.0 411.0L326.0 411.0L327.0 411.0L328.0 411.0" fill="none" stroke="#c8344a" stroke-width="2" stroke-linejoin="round"/><path d="M21.0 418.0L22.0 418.0L23.0 418.0L24.0 418.0L25.0 418.0L26.0 418.0L27.0 418.0L28.0 418.0L29.0 418.0L30.0 418.0L31.0 418.0L32.0 418.0L33.0 418.0L34.0 418.0L35.0 418.0L36.0 418.0L37.0 418.0L38.0 418.0L39.0 418.0L40.0 418.0L41.0 418.0L42.0 417.9L43.0 417.9L44.0 417.9L45.0 417.9L46.0 417.9L47.0 417.9L48.0 417.9L49.0 417.9L50.0 417.9L51.0 417.9L52.0 417.9L53.0 417.9L54.0 417.9L55.0 417.9L56.0 417.9L57.0 417.9L58.0 417.9L59.0 417.9L60.0 417.9L61.0 417.9L62.0 417.9L63.0 417.9L64.0 417.9L65.0 417.9L66.0 417.8L67.0 417.8L68.0 417.8L69.0 417.7L70.0 417.7L71.0 417.6L72.0 417.6L73.0 417.5L74.0 417.4L75.0 417.4L76.0 417.3L77.0 417.2L78.0 417.1L79.0 416.9L80.0 416.8L81.0 416.7L82.0 416.6L83.0 416.4L84.0 416.3L85.0 416.1L86.0 415.9L87.0 415.7L88.0 415.6L89.0 415.3L90.0 415.1L91.0 414.9L92.0 414.7L93.0 414.4L94.0 414.2L95.0 413.9L96.0 413.6L97.0 413.3L98.0 413.0L99.0 412.6L100.0 412.3L101.0 411.9L102.0 411.5L103.0 411.1L104.0 410.7L105.0 410.3L106.0 409.8L107.0 409.3L108.0 408.9L109.0 408.3L110.0 407.8L111.0 407.3L112.0 406.7L113.0 406.1L114.0 405.5L115.0 404.8L116.0 404.1L117.0 403.4L118.0 402.7L119.0 401.9L120.0 401.1L121.0 400.3L122.0 399.4L123.0 398.5L124.0 397.6L125.0 396.6L126.0 395.6L127.0 394.6L128.0 393.6L129.0 392.5L130.0 391.5L131.0 390.4L132.0 389.4L133.0 388.3L134.0 387.2L135.0 386.1L136.0 385.1L137.0 384.0L138.0 382.9L139.0 381.9L140.0 380.8L141.0 379.7L142.0 378.7L143.0 377.6L144.0 376.6L145.0 375.5L146.0 374.5L147.0 373.5L148.0 372.5L149.0 371.5L150.0 370.5L151.0 369.5L152.0 368.5L153.0 367.5L154.0 366.6L155.0 365.7L156.0 364.8L157.0 363.9L158.0 363.0L159.0 362.2L160.0 361.4L161.0 360.6L162.0 359.8L163.0 359.1L164.0 358.3L165.0 357.7L166.0 357.0L167.0 356.4L168.0 355.8L169.0 355.2L170.0 354.7L171.0 354.2L172.0 353.8L173.0 353.4L174.0 353.0L175.0 352.7L176.0 352.4L177.0 352.2L178.0 351.9L179.0 351.8L180.0 351.7L181.0 351.6L182.0 351.6L183.0 351.6L184.0 351.7L185.0 351.8L186.0 352.0L187.0 352.3L188.0 352.6L189.0 352.9L190.0 353.3L191.0 353.8L192.0 354.3L193.0 354.8L194.0 355.4L195.0 356.0L196.0 356.7L197.0 357.4L198.0 358.1L199.0 358.9L200.0 359.7L201.0 360.6L202.0 361.4L203.0 362.3L204.0 363.2L205.0 364.2L206.0 365.1L207.0 366.1L208.0 367.1L209.0 368.0L210.0 369.0L211.0 370.0L212.0 371.0L213.0 372.0L214.0 373.0L215.0 374.0L216.0 375.0L217.0 376.0L218.0 377.0L219.0 378.0L220.0 378.9L221.0 379.9L222.0 380.8L223.0 381.8L224.0 382.7L225.0 383.6L226.0 384.5L227.0 385.3L228.0 386.2L229.0 387.0L230.0 387.8L231.0 388.6L232.0 389.4L233.0 390.2L234.0 390.9L235.0 391.6L236.0 392.3L237.0 393.0L238.0 393.7L239.0 394.3L240.0 395.0L241.0 395.6L242.0 396.2L243.0 396.7L244.0 397.3L245.0 397.8L246.0 398.3L247.0 398.8L248.0 399.3L249.0 399.7L250.0 400.2L251.0 400.6L252.0 401.0L253.0 401.4L254.0 401.8L255.0 402.2L256.0 402.5L257.0 402.9L258.0 403.2L259.0 403.5L260.0 403.9L261.0 404.2L262.0 404.5L263.0 404.8L264.0 405.2L265.0 405.5L266.0 405.8L267.0 406.1L268.0 406.4L269.0 406.7L270.0 406.9L271.0 407.2L272.0 407.4L273.0 407.6L274.0 407.8L275.0 408.0L276.0 408.2L277.0 408.3L278.0 408.5L279.0 408.6L280.0 408.7L281.0 408.8L282.0 408.9L283.0 409.0L284.0 409.1L285.0 409.2L286.0 409.3L287.0 409.3L288.0 409.4L289.0 409.5L290.0 409.5L291.0 409.6L292.0 409.6L293.0 409.6L294.0 409.7L295.0 409.7L296.0 409.7L297.0 409.7L298.0 409.8L299.0 409.8L300.0 409.8L301.0 409.8L302.0 409.8L303.0 409.8L304.0 409.9L305.0 409.9L306.0 409.9L307.0 410.0L308.0 410.1L309.0 410.1L310.0 410.2L311.0 410.2L312.0 410.3L313.0 410.3L314.0 410.4L315.0 410.4L316.0 410.5L317.0 410.5L318.0 410.6L319.0 410.6L320.0 410.6L321.0 410.7L322.0 410.7L323.0 410.7L324.0 410.7L325.0 410.8L326.0 410.8L327.0 410.8L328.0 410.8" fill="none" stroke="#3a30b4" stroke-width="2" stroke-linejoin="round"/><rect x="21" y="9" width="307.5" height="426.5" fill="none" stroke="#828282" stroke-width="2"/><line x1="21" y1="222" x2="328.5" y2="222" stroke="#828282" stroke-width="2"/><line x1="21.4" y1="435.5" x2="21.4" y2="437.5" stroke="#828282" stroke-width="1.6"/><line x1="52.1" y1="435.5" x2="52.1" y2="440.0" stroke="#828282" stroke-width="1.6"/><text x="52.1" y="455.7" font-size="14.4" text-anchor="middle" font-weight="normal" >485</text><line x1="82.8" y1="435.5" x2="82.8" y2="437.5" stroke="#828282" stroke-width="1.6"/><line x1="113.4" y1="435.5" x2="113.4" y2="440.0" stroke="#828282" stroke-width="1.6"/><text x="113.4" y="455.7" font-size="14.4" text-anchor="middle" font-weight="normal" >486</text><line x1="144.1" y1="435.5" x2="144.1" y2="437.5" stroke="#828282" stroke-width="1.6"/><line x1="174.8" y1="435.5" x2="174.8" y2="440.0" stroke="#828282" stroke-width="1.6"/><text x="174.8" y="455.7" font-size="14.4" text-anchor="middle" font-weight="normal" >487</text><line x1="205.5" y1="435.5" x2="205.5" y2="437.5" stroke="#828282" stroke-width="1.6"/><line x1="236.1" y1="435.5" x2="236.1" y2="440.0" stroke="#828282" stroke-width="1.6"/><text x="236.1" y="455.7" font-size="14.4" text-anchor="middle" font-weight="normal" >488</text><line x1="266.8" y1="435.5" x2="266.8" y2="437.5" stroke="#828282" stroke-width="1.6"/><line x1="297.5" y1="435.5" x2="297.5" y2="440.0" stroke="#828282" stroke-width="1.6"/><text x="297.5" y="455.7" font-size="14.4" text-anchor="middle" font-weight="normal" >489</text><line x1="328.1" y1="435.5" x2="328.1" y2="437.5" stroke="#828282" stroke-width="1.6"/><text x="175.6" y="476.1" font-size="14.4" text-anchor="middle" font-weight="normal" >Binding Energy (eV)</text><text x="0" y="0" font-size="14.4" text-anchor="middle" transform="translate(11,222.5) rotate(-90)">Intensity (a.u.)</text><text x="2.6" y="14.8" font-size="19" text-anchor="start" font-weight="bold" >a</text><text x="57.5" y="34.3" font-size="14.4" text-anchor="middle" font-weight="normal" >Sn-2X</text><text x="57.8" y="51.2" font-size="14.4" text-anchor="middle" font-weight="normal" >Fresh</text><text x="38.2" y="254.5" font-size="14.4" text-anchor="start" font-weight="normal" >1000 h</text><line x1="198" y1="23.3" x2="223.3" y2="23.3" stroke="#2f847f" stroke-width="2.2" opacity="0.8"/><text x="229.2" y="27.4" font-size="14.4" text-anchor="start" font-weight="normal" >Spectrum</text><line x1="198" y1="42.8" x2="223.3" y2="42.8" stroke="#333333" stroke-width="2.2" opacity="0.8"/><text x="229.2" y="47.4" font-size="14.4" text-anchor="start" font-weight="normal" >Background</text><line x1="198" y1="70.0" x2="223.3" y2="70.0" stroke="#c8344a" stroke-width="2.2" opacity="0.8"/><text x="229.2" y="73.9" font-size="14.4" text-anchor="start" font-weight="normal" >Sn<tspan font-size="9.8" dy="-5.8">2+</tspan></text><line x1="198" y1="97.6" x2="223.3" y2="97.6" stroke="#3a30b4" stroke-width="2.2" opacity="0.8"/><text x="229.2" y="101.5" font-size="14.4" text-anchor="start" font-weight="normal" >Sn<tspan font-size="9.8" dy="-5.8">4+</tspan></text><path d="M372.0 207.0L373.0 206.9L374.0 206.9L375.0 206.9L376.0 206.8L377.0 206.8L378.0 206.7L379.0 206.7L380.0 206.6L381.0 206.6L382.0 206.6L383.0 206.5L384.0 206.5L385.0 206.5L386.0 206.4L387.0 206.4L388.0 206.3L389.0 206.2L390.0 206.2L391.0 206.1L392.0 205.9L393.0 205.8L394.0 205.7L395.0 205.5L396.0 205.3L397.0 205.1L398.0 204.9L399.0 204.6L400.0 204.4L401.0 204.1L402.0 203.8L403.0 203.5L404.0 203.1L405.0 202.7L406.0 202.3L407.0 201.9L408.0 201.5L409.0 201.0L410.0 200.5L411.0 200.0L412.0 199.4L413.0 198.9L414.0 198.3L415.0 197.7L416.0 197.0L417.0 196.4L418.0 195.7L419.0 194.9L420.0 194.2L421.0 193.4L422.0 192.6L423.0 191.7L424.0 190.8L425.0 189.9L426.0 188.9L427.0 187.9L428.0 186.8L429.0 185.6L430.0 184.4L431.0 183.1L432.0 181.8L433.0 180.4L434.0 178.9L435.0 177.4L436.0 175.8L437.0 174.1L438.0 172.4L439.0 170.6L440.0 168.7L441.0 166.7L442.0 164.7L443.0 162.6L444.0 160.5L445.0 158.3L446.0 156.0L447.0 153.7L448.0 151.3L449.0 148.9L450.0 146.4L451.0 143.9L452.0 141.3L453.0 138.7L454.0 136.0L455.0 133.3L456.0 130.5L457.0 127.7L458.0 124.9L459.0 122.1L460.0 119.2L461.0 116.3L462.0 113.3L463.0 110.4L464.0 107.4L465.0 104.5L466.0 101.5L467.0 98.6L468.0 95.7L469.0 92.7L470.0 89.9L471.0 87.0L472.0 84.2L473.0 81.4L474.0 78.7L475.0 76.0L476.0 73.4L477.0 70.9L478.0 68.5L479.0 66.1L480.0 63.8L481.0 61.7L482.0 59.6L483.0 57.7L484.0 55.9L485.0 54.2L486.0 52.6L487.0 51.2L488.0 49.9L489.0 48.7L490.0 47.7L491.0 46.8L492.0 46.1L493.0 45.5L494.0 45.0L495.0 44.7L496.0 44.6L497.0 44.5L498.0 44.6L499.0 44.7L500.0 44.9L501.0 45.2L502.0 45.6L503.0 46.0L504.0 46.6L505.0 47.2L506.0 47.9L507.0 48.7L508.0 49.6L509.0 50.6L510.0 51.6L511.0 52.7L512.0 53.9L513.0 55.2L514.0 56.5L515.0 57.9L516.0 59.4L517.0 61.0L518.0 62.6L519.0 64.2L520.0 66.0L521.0 67.7L522.0 69.5L523.0 71.4L524.0 73.3L525.0 75.2L526.0 77.2L527.0 79.2L528.0 81.2L529.0 83.3L530.0 85.3L531.0 87.4L532.0 89.5L533.0 91.6L534.0 93.7L535.0 95.8L536.0 97.9L537.0 100.1L538.0 102.2L539.0 104.4L540.0 106.5L541.0 108.6L542.0 110.8L543.0 112.9L544.0 115.0L545.0 117.1L546.0 119.2L547.0 121.3L548.0 123.4L549.0 125.4L550.0 127.5L551.0 129.5L552.0 131.4L553.0 133.4L554.0 135.3L555.0 137.2L556.0 139.1L557.0 140.9L558.0 142.7L559.0 144.4L560.0 146.1L561.0 147.8L562.0 149.4L563.0 151.0L564.0 152.6L565.0 154.1L566.0 155.5L567.0 156.9L568.0 158.3L569.0 159.6L570.0 160.9L571.0 162.1L572.0 163.3L573.0 164.5L574.0 165.6L575.0 166.6L576.0 167.6L577.0 168.6L578.0 169.5L579.0 170.4L580.0 171.2L581.0 172.0L582.0 172.7L583.0 173.4L584.0 174.1L585.0 174.7L586.0 175.3L587.0 175.9L588.0 176.4L589.0 176.9L590.0 177.4L591.0 177.9L592.0 178.4L593.0 178.8L594.0 179.3L595.0 179.7L596.0 180.2L597.0 180.6L598.0 181.1L599.0 181.5L600.0 181.9L601.0 182.4L602.0 182.8L603.0 183.3L604.0 183.7L605.0 184.1L606.0 184.6L607.0 185.0L608.0 185.4L609.0 185.9L610.0 186.3L611.0 186.7L612.0 187.2L613.0 187.6L614.0 188.0L615.0 188.4L616.0 188.8L617.0 189.2L618.0 189.6L619.0 190.0L620.0 190.3L621.0 190.7L622.0 191.0L623.0 191.4L624.0 191.7L625.0 192.0L626.0 192.3L627.0 192.6L628.0 192.9L629.0 193.2L630.0 193.5L631.0 193.8L632.0 194.1L633.0 194.4L634.0 194.7L635.0 194.9L636.0 195.2L637.0 195.5L638.0 195.7L639.0 196.0L640.0 196.2L641.0 196.5L642.0 196.7L643.0 196.9L644.0 197.1L645.0 197.3L646.0 197.5L647.0 197.7L648.0 197.9L649.0 198.1L650.0 198.2L651.0 198.4L652.0 198.6L653.0 198.7L654.0 198.9L655.0 199.0L656.0 199.2L657.0 199.3L658.0 199.5L659.0 199.6L660.0 199.8L661.0 199.9L662.0 200.1L663.0 200.2L664.0 200.4L665.0 200.5L666.0 200.6L667.0 200.8L668.0 200.9L669.0 201.0L670.0 201.1L671.0 201.3L672.0 201.4L673.0 201.5L674.0 201.6L675.0 201.7L676.0 201.7L677.0 201.8" fill="none" stroke="#2f847f" stroke-width="2" stroke-linejoin="round"/><path d="M372.0 209.9L373.0 209.9L374.0 209.9L375.0 209.9L376.0 209.9L377.0 209.8L378.0 209.8L379.0 209.8L380.0 209.8L381.0 209.8L382.0 209.8L383.0 209.8L384.0 209.8L385.0 209.8L386.0 209.8L387.0 209.7L388.0 209.7L389.0 209.7L390.0 209.7L391.0 209.7L392.0 209.7L393.0 209.7L394.0 209.7L395.0 209.6L396.0 209.6L397.0 209.6L398.0 209.6L399.0 209.6L400.0 209.6L401.0 209.6L402.0 209.6L403.0 209.5L404.0 209.5L405.0 209.5L406.0 209.5L407.0 209.5L408.0 209.5L409.0 209.4L410.0 209.4L411.0 209.4L412.0 209.4L413.0 209.4L414.0 209.4L415.0 209.3L416.0 209.3L417.0 209.3L418.0 209.3L419.0 209.3L420.0 209.3L421.0 209.2L422.0 209.2L423.0 209.2L424.0 209.2L425.0 209.2L426.0 209.1L427.0 209.1L428.0 209.1L429.0 209.1L430.0 209.1L431.0 209.0L432.0 209.0L433.0 209.0L434.0 209.0L435.0 208.9L436.0 208.9L437.0 208.9L438.0 208.9L439.0 208.9L440.0 208.8L441.0 208.8L442.0 208.8L443.0 208.8L444.0 208.7L445.0 208.7L446.0 208.7L447.0 208.6L448.0 208.6L449.0 208.6L450.0 208.6L451.0 208.5L452.0 208.5L453.0 208.5L454.0 208.5L455.0 208.4L456.0 208.4L457.0 208.4L458.0 208.3L459.0 208.3L460.0 208.3L461.0 208.2L462.0 208.2L463.0 208.2L464.0 208.1L465.0 208.1L466.0 208.1L467.0 208.1L468.0 208.0L469.0 208.0L470.0 208.0L471.0 207.9L472.0 207.9L473.0 207.9L474.0 207.8L475.0 207.8L476.0 207.7L477.0 207.7L478.0 207.7L479.0 207.6L480.0 207.6L481.0 207.6L482.0 207.5L483.0 207.5L484.0 207.5L485.0 207.4L486.0 207.4L487.0 207.3L488.0 207.3L489.0 207.3L490.0 207.2L491.0 207.2L492.0 207.2L493.0 207.1L494.0 207.1L495.0 207.0L496.0 207.0L497.0 207.0L498.0 206.9L499.0 206.9L500.0 206.8L501.0 206.8L502.0 206.8L503.0 206.7L504.0 206.7L505.0 206.6L506.0 206.6L507.0 206.6L508.0 206.5L509.0 206.5L510.0 206.4L511.0 206.4L512.0 206.4L513.0 206.3L514.0 206.3L515.0 206.2L516.0 206.2L517.0 206.2L518.0 206.1L519.0 206.1L520.0 206.0L521.0 206.0L522.0 206.0L523.0 205.9L524.0 205.9L525.0 205.8L526.0 205.8L527.0 205.8L528.0 205.7L529.0 205.7L530.0 205.6L531.0 205.6L532.0 205.6L533.0 205.5L534.0 205.5L535.0 205.4L536.0 205.4L537.0 205.4L538.0 205.3L539.0 205.3L540.0 205.2L541.0 205.2L542.0 205.2L543.0 205.1L544.0 205.1L545.0 205.1L546.0 205.0L547.0 205.0L548.0 204.9L549.0 204.9L550.0 204.9L551.0 204.8L552.0 204.8L553.0 204.8L554.0 204.7L555.0 204.7L556.0 204.7L557.0 204.6L558.0 204.6L559.0 204.6L560.0 204.5L561.0 204.5L562.0 204.5L563.0 204.4L564.0 204.4L565.0 204.4L566.0 204.3L567.0 204.3L568.0 204.3L569.0 204.2L570.0 204.2L571.0 204.2L572.0 204.2L573.0 204.1L574.0 204.1L575.0 204.1L576.0 204.0L577.0 204.0L578.0 204.0L579.0 204.0L580.0 203.9L581.0 203.9L582.0 203.9L583.0 203.8L584.0 203.8L585.0 203.8L586.0 203.8L587.0 203.7L588.0 203.7L589.0 203.7L590.0 203.7L591.0 203.6L592.0 203.6L593.0 203.6L594.0 203.6L595.0 203.6L596.0 203.5L597.0 203.5L598.0 203.5L599.0 203.5L600.0 203.4L601.0 203.4L602.0 203.4L603.0 203.4L604.0 203.4L605.0 203.3L606.0 203.3L607.0 203.3L608.0 203.3L609.0 203.3L610.0 203.2L611.0 203.2L612.0 203.2L613.0 203.2L614.0 203.2L615.0 203.2L616.0 203.1L617.0 203.1L618.0 203.1L619.0 203.1L620.0 203.1L621.0 203.1L622.0 203.0L623.0 203.0L624.0 203.0L625.0 203.0L626.0 203.0L627.0 203.0L628.0 203.0L629.0 202.9L630.0 202.9L631.0 202.9L632.0 202.9L633.0 202.9L634.0 202.9L635.0 202.9L636.0 202.8L637.0 202.8L638.0 202.8L639.0 202.8L640.0 202.8L641.0 202.8L642.0 202.8L643.0 202.8L644.0 202.8L645.0 202.7L646.0 202.7L647.0 202.7L648.0 202.7L649.0 202.7L650.0 202.7L651.0 202.7L652.0 202.7L653.0 202.7L654.0 202.7L655.0 202.7L656.0 202.6L657.0 202.6L658.0 202.6L659.0 202.6L660.0 202.6L661.0 202.6L662.0 202.6L663.0 202.6L664.0 202.6L665.0 202.6L666.0 202.6L667.0 202.6L668.0 202.5L669.0 202.5L670.0 202.5L671.0 202.5L672.0 202.5L673.0 202.5L674.0 202.5L675.0 202.5L676.0 202.5L677.0 202.5" fill="none" stroke="#333333" stroke-width="2" stroke-linejoin="round"/><path d="M372.0 207.5L373.0 207.5L374.0 207.4L375.0 207.4L376.0 207.4L377.0 207.4L378.0 207.3L379.0 207.3L380.0 207.3L381.0 207.3L382.0 207.3L383.0 207.2L384.0 207.2L385.0 207.2L386.0 207.2L387.0 207.1L388.0 207.0L389.0 207.0L390.0 206.9L391.0 206.8L392.0 206.6L393.0 206.5L394.0 206.3L395.0 206.2L396.0 206.0L397.0 205.8L398.0 205.5L399.0 205.3L400.0 205.0L401.0 204.8L402.0 204.5L403.0 204.2L404.0 203.8L405.0 203.5L406.0 203.1L407.0 202.7L408.0 202.3L409.0 201.9L410.0 201.4L411.0 200.9L412.0 200.4L413.0 199.9L414.0 199.3L415.0 198.7L416.0 198.1L417.0 197.5L418.0 196.8L419.0 196.1L420.0 195.3L421.0 194.6L422.0 193.8L423.0 192.9L424.0 192.1L425.0 191.1L426.0 190.2L427.0 189.2L428.0 188.1L429.0 187.0L430.0 185.8L431.0 184.6L432.0 183.3L433.0 181.9L434.0 180.5L435.0 179.0L436.0 177.4L437.0 175.8L438.0 174.1L439.0 172.3L440.0 170.5L441.0 168.6L442.0 166.6L443.0 164.6L444.0 162.5L445.0 160.4L446.0 158.2L447.0 155.9L448.0 153.6L449.0 151.2L450.0 148.8L451.0 146.3L452.0 143.8L453.0 141.3L454.0 138.7L455.0 136.0L456.0 133.4L457.0 130.6L458.0 127.9L459.0 125.2L460.0 122.4L461.0 119.6L462.0 116.7L463.0 113.9L464.0 111.1L465.0 108.2L466.0 105.4L467.0 102.5L468.0 99.7L469.0 96.9L470.0 94.1L471.0 91.4L472.0 88.6L473.0 86.0L474.0 83.3L475.0 80.7L476.0 78.2L477.0 75.8L478.0 73.4L479.0 71.1L480.0 68.9L481.0 66.7L482.0 64.7L483.0 62.8L484.0 60.9L485.0 59.1L486.0 57.5L487.0 55.9L488.0 54.5L489.0 53.1L490.0 51.9L491.0 50.8L492.0 49.8L493.0 48.8L494.0 48.0L495.0 47.4L496.0 46.8L497.0 46.3L498.0 46.0L499.0 45.7L500.0 45.6L501.0 45.6L502.0 45.8L503.0 46.1L504.0 46.5L505.0 47.1L506.0 47.8L507.0 48.7L508.0 49.7L509.0 50.8L510.0 52.1L511.0 53.5L512.0 55.0L513.0 56.6L514.0 58.4L515.0 60.2L516.0 62.2L517.0 64.2L518.0 66.4L519.0 68.6L520.0 70.9L521.0 73.3L522.0 75.8L523.0 78.4L524.0 81.0L525.0 83.7L526.0 86.4L527.0 89.2L528.0 92.0L529.0 94.9L530.0 97.8L531.0 100.7L532.0 103.6L533.0 106.6L534.0 109.5L535.0 112.4L536.0 115.4L537.0 118.3L538.0 121.2L539.0 124.1L540.0 126.9L541.0 129.7L542.0 132.5L543.0 135.2L544.0 137.9L545.0 140.6L546.0 143.2L547.0 145.7L548.0 148.2L549.0 150.7L550.0 153.0L551.0 155.3L552.0 157.6L553.0 159.8L554.0 161.9L555.0 163.9L556.0 165.9L557.0 167.8L558.0 169.6L559.0 171.3L560.0 173.0L561.0 174.6L562.0 176.1L563.0 177.6L564.0 179.0L565.0 180.3L566.0 181.6L567.0 182.7L568.0 183.9L569.0 184.9L570.0 185.9L571.0 186.9L572.0 187.7L573.0 188.6L574.0 189.4L575.0 190.1L576.0 190.8L577.0 191.4L578.0 192.0L579.0 192.6L580.0 193.1L581.0 193.6L582.0 194.0L583.0 194.5L584.0 194.9L585.0 195.2L586.0 195.6L587.0 195.9L588.0 196.2L589.0 196.4L590.0 196.7L591.0 196.9L592.0 197.1L593.0 197.3L594.0 197.5L595.0 197.7L596.0 197.9L597.0 198.0L598.0 198.2L599.0 198.3L600.0 198.5L601.0 198.6L602.0 198.7L603.0 198.8L604.0 198.9L605.0 199.0L606.0 199.1L607.0 199.2L608.0 199.3L609.0 199.4L610.0 199.5L611.0 199.6L612.0 199.6L613.0 199.7L614.0 199.8L615.0 199.9L616.0 199.9L617.0 200.0L618.0 200.1L619.0 200.2L620.0 200.2L621.0 200.3L622.0 200.4L623.0 200.4L624.0 200.5L625.0 200.5L626.0 200.6L627.0 200.6L628.0 200.6L629.0 200.7L630.0 200.7L631.0 200.7L632.0 200.7L633.0 200.8L634.0 200.8L635.0 200.8L636.0 200.8L637.0 200.9L638.0 200.9L639.0 200.9L640.0 200.9L641.0 201.0L642.0 201.0L643.0 201.0L644.0 201.0L645.0 201.1L646.0 201.1L647.0 201.2L648.0 201.2L649.0 201.3L650.0 201.3L651.0 201.4L652.0 201.5L653.0 201.5L654.0 201.6L655.0 201.7L656.0 201.7L657.0 201.8L658.0 201.8L659.0 201.9L660.0 201.9L661.0 201.9L662.0 201.9L663.0 202.0L664.0 202.0L665.0 202.0L666.0 202.0L667.0 202.0L668.0 202.1L669.0 202.1L670.0 202.1L671.0 202.1L672.0 202.1L673.0 202.1L674.0 202.1L675.0 202.1L676.0 202.1L677.0 202.1" fill="none" stroke="#c8344a" stroke-width="2" stroke-linejoin="round"/><path d="M372.0 209.7L373.0 209.7L374.0 209.7L375.0 209.7L376.0 209.7L377.0 209.7L378.0 209.7L379.0 209.6L380.0 209.6L381.0 209.6L382.0 209.6L383.0 209.6L384.0 209.6L385.0 209.6L386.0 209.6L387.0 209.5L388.0 209.5L389.0 209.5L390.0 209.5L391.0 209.5L392.0 209.5L393.0 209.5L394.0 209.5L395.0 209.4L396.0 209.4L397.0 209.4L398.0 209.4L399.0 209.4L400.0 209.4L401.0 209.3L402.0 209.3L403.0 209.3L404.0 209.3L405.0 209.3L406.0 209.3L407.0 209.2L408.0 209.2L409.0 209.2L410.0 209.2L411.0 209.2L412.0 209.2L413.0 209.2L414.0 209.2L415.0 209.1L416.0 209.1L417.0 209.1L418.0 209.1L419.0 209.1L420.0 209.1L421.0 209.1L422.0 209.1L423.0 209.1L424.0 209.1L425.0 209.1L426.0 209.1L427.0 209.1L428.0 209.1L429.0 209.1L430.0 209.0L431.0 209.0L432.0 209.0L433.0 209.0L434.0 209.0L435.0 208.9L436.0 208.9L437.0 208.9L438.0 208.9L439.0 208.8L440.0 208.8L441.0 208.8L442.0 208.8L443.0 208.7L444.0 208.7L445.0 208.7L446.0 208.6L447.0 208.6L448.0 208.6L449.0 208.5L450.0 208.5L451.0 208.4L452.0 208.4L453.0 208.4L454.0 208.3L455.0 208.3L456.0 208.3L457.0 208.2L458.0 208.2L459.0 208.2L460.0 208.2L461.0 208.2L462.0 208.1L463.0 208.1L464.0 208.1L465.0 208.1L466.0 208.0L467.0 208.0L468.0 208.0L469.0 207.9L470.0 207.9L471.0 207.8L472.0 207.8L473.0 207.8L474.0 207.7L475.0 207.7L476.0 207.6L477.0 207.5L478.0 207.5L479.0 207.4L480.0 207.4L481.0 207.3L482.0 207.2L483.0 207.1L484.0 207.0L485.0 206.9L486.0 206.8L487.0 206.7L488.0 206.6L489.0 206.5L490.0 206.4L491.0 206.3L492.0 206.2L493.0 206.0L494.0 205.9L495.0 205.8L496.0 205.7L497.0 205.6L498.0 205.5L499.0 205.4L500.0 205.3L501.0 205.2L502.0 205.1L503.0 205.0L504.0 204.9L505.0 204.8L506.0 204.7L507.0 204.6L508.0 204.4L509.0 204.3L510.0 204.2L511.0 204.0L512.0 203.9L513.0 203.8L514.0 203.6L515.0 203.5L516.0 203.3L517.0 203.2L518.0 203.0L519.0 202.8L520.0 202.6L521.0 202.5L522.0 202.3L523.0 202.1L524.0 201.9L525.0 201.7L526.0 201.5L527.0 201.3L528.0 201.0L529.0 200.8L530.0 200.6L531.0 200.3L532.0 200.1L533.0 199.8L534.0 199.6L535.0 199.3L536.0 199.0L537.0 198.7L538.0 198.5L539.0 198.2L540.0 197.9L541.0 197.6L542.0 197.3L543.0 197.0L544.0 196.7L545.0 196.3L546.0 196.0L547.0 195.7L548.0 195.3L549.0 195.0L550.0 194.6L551.0 194.3L552.0 193.9L553.0 193.5L554.0 193.2L555.0 192.8L556.0 192.4L557.0 192.0L558.0 191.6L559.0 191.2L560.0 190.8L561.0 190.4L562.0 190.0L563.0 189.6L564.0 189.2L565.0 188.8L566.0 188.4L567.0 188.0L568.0 187.7L569.0 187.3L570.0 187.0L571.0 186.7L572.0 186.4L573.0 186.1L574.0 185.8L575.0 185.6L576.0 185.3L577.0 185.1L578.0 184.9L579.0 184.8L580.0 184.6L581.0 184.5L582.0 184.4L583.0 184.3L584.0 184.2L585.0 184.2L586.0 184.1L587.0 184.1L588.0 184.2L589.0 184.2L590.0 184.2L591.0 184.3L592.0 184.4L593.0 184.5L594.0 184.7L595.0 184.8L596.0 185.0L597.0 185.1L598.0 185.3L599.0 185.5L600.0 185.8L601.0 186.0L602.0 186.2L603.0 186.5L604.0 186.7L605.0 187.0L606.0 187.3L607.0 187.5L608.0 187.8L609.0 188.1L610.0 188.4L611.0 188.7L612.0 189.0L613.0 189.3L614.0 189.6L615.0 189.9L616.0 190.2L617.0 190.5L618.0 190.8L619.0 191.2L620.0 191.5L621.0 191.8L622.0 192.1L623.0 192.4L624.0 192.7L625.0 193.0L626.0 193.4L627.0 193.7L628.0 194.0L629.0 194.3L630.0 194.6L631.0 194.9L632.0 195.1L633.0 195.4L634.0 195.7L635.0 196.0L636.0 196.2L637.0 196.5L638.0 196.7L639.0 197.0L640.0 197.2L641.0 197.5L642.0 197.7L643.0 197.9L644.0 198.1L645.0 198.3L646.0 198.5L647.0 198.7L648.0 198.9L649.0 199.1L650.0 199.2L651.0 199.4L652.0 199.6L653.0 199.7L654.0 199.9L655.0 200.0L656.0 200.2L657.0 200.3L658.0 200.4L659.0 200.6L660.0 200.7L661.0 200.8L662.0 201.0L663.0 201.1L664.0 201.2L665.0 201.3L666.0 201.4L667.0 201.5L668.0 201.6L669.0 201.6L670.0 201.7L671.0 201.8L672.0 201.8L673.0 201.9L674.0 201.9L675.0 202.0L676.0 202.0L677.0 202.0" fill="none" stroke="#3a30b4" stroke-width="2" stroke-linejoin="round"/><path d="M372.0 418.6L373.0 418.5L374.0 418.3L375.0 418.1L376.0 417.9L377.0 417.7L378.0 417.5L379.0 417.3L380.0 417.1L381.0 416.9L382.0 416.7L383.0 416.5L384.0 416.2L385.0 416.0L386.0 415.8L387.0 415.5L388.0 415.2L389.0 415.0L390.0 414.6L391.0 414.3L392.0 414.0L393.0 413.6L394.0 413.2L395.0 412.7L396.0 412.3L397.0 411.8L398.0 411.2L399.0 410.7L400.0 410.1L401.0 409.5L402.0 408.8L403.0 408.2L404.0 407.5L405.0 406.7L406.0 406.0L407.0 405.2L408.0 404.4L409.0 403.5L410.0 402.6L411.0 401.7L412.0 400.8L413.0 399.9L414.0 398.9L415.0 397.9L416.0 396.9L417.0 395.9L418.0 394.9L419.0 393.8L420.0 392.7L421.0 391.6L422.0 390.5L423.0 389.3L424.0 388.2L425.0 387.0L426.0 385.7L427.0 384.5L428.0 383.2L429.0 381.9L430.0 380.5L431.0 379.2L432.0 377.8L433.0 376.4L434.0 374.9L435.0 373.4L436.0 371.9L437.0 370.4L438.0 368.9L439.0 367.3L440.0 365.8L441.0 364.2L442.0 362.5L443.0 360.9L444.0 359.3L445.0 357.6L446.0 355.9L447.0 354.2L448.0 352.5L449.0 350.8L450.0 349.1L451.0 347.3L452.0 345.5L453.0 343.8L454.0 342.0L455.0 340.1L456.0 338.3L457.0 336.4L458.0 334.5L459.0 332.6L460.0 330.7L461.0 328.7L462.0 326.8L463.0 324.8L464.0 322.8L465.0 320.8L466.0 318.8L467.0 316.8L468.0 314.7L469.0 312.7L470.0 310.7L471.0 308.7L472.0 306.7L473.0 304.7L474.0 302.7L475.0 300.7L476.0 298.8L477.0 296.9L478.0 295.0L479.0 293.1L480.0 291.3L481.0 289.5L482.0 287.8L483.0 286.0L484.0 284.4L485.0 282.7L486.0 281.1L487.0 279.6L488.0 278.1L489.0 276.6L490.0 275.2L491.0 273.9L492.0 272.6L493.0 271.3L494.0 270.1L495.0 269.0L496.0 267.9L497.0 266.9L498.0 265.9L499.0 265.0L500.0 264.1L501.0 263.3L502.0 262.6L503.0 261.9L504.0 261.3L505.0 260.7L506.0 260.2L507.0 259.8L508.0 259.4L509.0 259.2L510.0 259.0L511.0 258.9L512.0 258.9L513.0 259.0L514.0 259.2L515.0 259.5L516.0 259.8L517.0 260.3L518.0 260.9L519.0 261.6L520.0 262.3L521.0 263.1L522.0 264.0L523.0 265.0L524.0 266.1L525.0 267.2L526.0 268.4L527.0 269.6L528.0 270.9L529.0 272.3L530.0 273.7L531.0 275.2L532.0 276.7L533.0 278.3L534.0 279.9L535.0 281.5L536.0 283.2L537.0 284.8L538.0 286.6L539.0 288.3L540.0 290.1L541.0 291.9L542.0 293.7L543.0 295.5L544.0 297.3L545.0 299.1L546.0 301.0L547.0 302.8L548.0 304.7L549.0 306.5L550.0 308.4L551.0 310.2L552.0 312.0L553.0 313.9L554.0 315.7L555.0 317.5L556.0 319.3L557.0 321.1L558.0 322.9L559.0 324.7L560.0 326.5L561.0 328.2L562.0 330.0L563.0 331.7L564.0 333.4L565.0 335.1L566.0 336.8L567.0 338.4L568.0 340.0L569.0 341.6L570.0 343.2L571.0 344.8L572.0 346.3L573.0 347.9L574.0 349.4L575.0 350.8L576.0 352.3L577.0 353.7L578.0 355.1L579.0 356.5L580.0 357.9L581.0 359.2L582.0 360.5L583.0 361.8L584.0 363.1L585.0 364.3L586.0 365.5L587.0 366.7L588.0 367.9L589.0 369.0L590.0 370.1L591.0 371.2L592.0 372.3L593.0 373.3L594.0 374.4L595.0 375.4L596.0 376.3L597.0 377.3L598.0 378.2L599.0 379.1L600.0 380.0L601.0 380.8L602.0 381.7L603.0 382.5L604.0 383.3L605.0 384.1L606.0 384.8L607.0 385.6L608.0 386.3L609.0 387.0L610.0 387.7L611.0 388.4L612.0 389.1L613.0 389.7L614.0 390.4L615.0 391.0L616.0 391.6L617.0 392.2L618.0 392.8L619.0 393.4L620.0 394.0L621.0 394.6L622.0 395.2L623.0 395.8L624.0 396.3L625.0 396.9L626.0 397.5L627.0 398.0L628.0 398.6L629.0 399.1L630.0 399.7L631.0 400.2L632.0 400.7L633.0 401.2L634.0 401.7L635.0 402.2L636.0 402.7L637.0 403.1L638.0 403.6L639.0 404.0L640.0 404.4L641.0 404.8L642.0 405.2L643.0 405.5L644.0 405.9L645.0 406.2L646.0 406.5L647.0 406.8L648.0 407.1L649.0 407.4L650.0 407.6L651.0 407.9L652.0 408.2L653.0 408.4L654.0 408.6L655.0 408.9L656.0 409.1L657.0 409.3L658.0 409.5L659.0 409.7L660.0 409.9L661.0 410.1L662.0 410.2L663.0 410.4L664.0 410.6L665.0 410.8L666.0 410.9L667.0 411.1L668.0 411.3L669.0 411.4L670.0 411.6L671.0 411.7L672.0 411.8L673.0 412.0L674.0 412.1L675.0 412.2L676.0 412.3L677.0 412.4" fill="none" stroke="#2f847f" stroke-width="2" stroke-linejoin="round"/><path d="M372.0 422.9L373.0 422.9L374.0 422.9L375.0 422.9L376.0 422.9L377.0 422.9L378.0 422.9L379.0 422.9L380.0 422.9L381.0 422.9L382.0 422.9L383.0 422.9L384.0 422.9L385.0 422.9L386.0 422.9L387.0 422.9L388.0 422.9L389.0 422.9L390.0 422.9L391.0 422.9L392.0 422.9L393.0 422.9L394.0 422.9L395.0 422.9L396.0 422.9L397.0 422.9L398.0 422.9L399.0 422.9L400.0 422.8L401.0 422.8L402.0 422.8L403.0 422.8L404.0 422.8L405.0 422.8L406.0 422.8L407.0 422.8L408.0 422.8L409.0 422.8L410.0 422.8L411.0 422.8L412.0 422.8L413.0 422.8L414.0 422.8L415.0 422.8L416.0 422.8L417.0 422.8L418.0 422.7L419.0 422.7L420.0 422.7L421.0 422.7L422.0 422.7L423.0 422.7L424.0 422.7L425.0 422.7L426.0 422.7L427.0 422.7L428.0 422.7L429.0 422.7L430.0 422.7L431.0 422.6L432.0 422.6L433.0 422.6L434.0 422.6L435.0 422.6L436.0 422.6L437.0 422.6L438.0 422.6L439.0 422.6L440.0 422.5L441.0 422.5L442.0 422.5L443.0 422.5L444.0 422.5L445.0 422.5L446.0 422.5L447.0 422.5L448.0 422.4L449.0 422.4L450.0 422.4L451.0 422.4L452.0 422.4L453.0 422.4L454.0 422.3L455.0 422.3L456.0 422.3L457.0 422.3L458.0 422.3L459.0 422.3L460.0 422.2L461.0 422.2L462.0 422.2L463.0 422.2L464.0 422.2L465.0 422.1L466.0 422.1L467.0 422.1L468.0 422.1L469.0 422.1L470.0 422.0L471.0 422.0L472.0 422.0L473.0 422.0L474.0 421.9L475.0 421.9L476.0 421.9L477.0 421.9L478.0 421.8L479.0 421.8L480.0 421.8L481.0 421.8L482.0 421.7L483.0 421.7L484.0 421.7L485.0 421.6L486.0 421.6L487.0 421.6L488.0 421.6L489.0 421.5L490.0 421.5L491.0 421.5L492.0 421.4L493.0 421.4L494.0 421.4L495.0 421.3L496.0 421.3L497.0 421.3L498.0 421.2L499.0 421.2L500.0 421.2L501.0 421.1L502.0 421.1L503.0 421.1L504.0 421.0L505.0 421.0L506.0 420.9L507.0 420.9L508.0 420.9L509.0 420.8L510.0 420.8L511.0 420.8L512.0 420.7L513.0 420.7L514.0 420.6L515.0 420.6L516.0 420.6L517.0 420.5L518.0 420.5L519.0 420.4L520.0 420.4L521.0 420.4L522.0 420.3L523.0 420.3L524.0 420.2L525.0 420.2L526.0 420.2L527.0 420.1L528.0 420.1L529.0 420.0L530.0 420.0L531.0 420.0L532.0 419.9L533.0 419.9L534.0 419.8L535.0 419.8L536.0 419.8L537.0 419.7L538.0 419.7L539.0 419.6L540.0 419.6L541.0 419.6L542.0 419.5L543.0 419.5L544.0 419.5L545.0 419.4L546.0 419.4L547.0 419.3L548.0 419.3L549.0 419.3L550.0 419.2L551.0 419.2L552.0 419.2L553.0 419.1L554.0 419.1L555.0 419.1L556.0 419.0L557.0 419.0L558.0 419.0L559.0 418.9L560.0 418.9L561.0 418.9L562.0 418.8L563.0 418.8L564.0 418.8L565.0 418.8L566.0 418.7L567.0 418.7L568.0 418.7L569.0 418.6L570.0 418.6L571.0 418.6L572.0 418.6L573.0 418.5L574.0 418.5L575.0 418.5L576.0 418.5L577.0 418.4L578.0 418.4L579.0 418.4L580.0 418.4L581.0 418.3L582.0 418.3L583.0 418.3L584.0 418.3L585.0 418.3L586.0 418.2L587.0 418.2L588.0 418.2L589.0 418.2L590.0 418.2L591.0 418.1L592.0 418.1L593.0 418.1L594.0 418.1L595.0 418.1L596.0 418.1L597.0 418.0L598.0 418.0L599.0 418.0L600.0 418.0L601.0 418.0L602.0 418.0L603.0 417.9L604.0 417.9L605.0 417.9L606.0 417.9L607.0 417.9L608.0 417.9L609.0 417.9L610.0 417.9L611.0 417.8L612.0 417.8L613.0 417.8L614.0 417.8L615.0 417.8L616.0 417.8L617.0 417.8L618.0 417.8L619.0 417.8L620.0 417.7L621.0 417.7L622.0 417.7L623.0 417.7L624.0 417.7L625.0 417.7L626.0 417.7L627.0 417.7L628.0 417.7L629.0 417.7L630.0 417.7L631.0 417.7L632.0 417.7L633.0 417.6L634.0 417.6L635.0 417.6L636.0 417.6L637.0 417.6L638.0 417.6L639.0 417.6L640.0 417.6L641.0 417.6L642.0 417.6L643.0 417.6L644.0 417.6L645.0 417.6L646.0 417.6L647.0 417.6L648.0 417.6L649.0 417.6L650.0 417.6L651.0 417.5L652.0 417.5L653.0 417.5L654.0 417.5L655.0 417.5L656.0 417.5L657.0 417.5L658.0 417.5L659.0 417.5L660.0 417.5L661.0 417.5L662.0 417.5L663.0 417.5L664.0 417.5L665.0 417.5L666.0 417.5L667.0 417.5L668.0 417.5L669.0 417.5L670.0 417.5L671.0 417.5L672.0 417.5L673.0 417.5L674.0 417.5L675.0 417.5L676.0 417.5L677.0 417.5" fill="none" stroke="#333333" stroke-width="2" stroke-linejoin="round"/><path d="M372.0 419.4L373.0 419.2L374.0 419.1L375.0 418.9L376.0 418.7L377.0 418.6L378.0 418.4L379.0 418.2L380.0 418.0L381.0 417.7L382.0 417.5L383.0 417.3L384.0 417.0L385.0 416.8L386.0 416.5L387.0 416.2L388.0 415.9L389.0 415.6L390.0 415.3L391.0 415.0L392.0 414.7L393.0 414.3L394.0 413.9L395.0 413.5L396.0 413.1L397.0 412.6L398.0 412.2L399.0 411.7L400.0 411.1L401.0 410.6L402.0 410.0L403.0 409.4L404.0 408.7L405.0 408.0L406.0 407.3L407.0 406.6L408.0 405.8L409.0 405.0L410.0 404.1L411.0 403.3L412.0 402.4L413.0 401.5L414.0 400.6L415.0 399.6L416.0 398.7L417.0 397.7L418.0 396.7L419.0 395.7L420.0 394.6L421.0 393.6L422.0 392.5L423.0 391.4L424.0 390.2L425.0 389.0L426.0 387.8L427.0 386.6L428.0 385.4L429.0 384.1L430.0 382.8L431.0 381.4L432.0 380.1L433.0 378.7L434.0 377.2L435.0 375.8L436.0 374.3L437.0 372.8L438.0 371.3L439.0 369.8L440.0 368.2L441.0 366.7L442.0 365.1L443.0 363.5L444.0 361.8L445.0 360.2L446.0 358.5L447.0 356.9L448.0 355.2L449.0 353.4L450.0 351.7L451.0 350.0L452.0 348.2L453.0 346.4L454.0 344.6L455.0 342.8L456.0 340.9L457.0 339.0L458.0 337.1L459.0 335.2L460.0 333.2L461.0 331.2L462.0 329.3L463.0 327.2L464.0 325.2L465.0 323.2L466.0 321.1L467.0 319.1L468.0 317.0L469.0 314.9L470.0 312.9L471.0 310.8L472.0 308.8L473.0 306.8L474.0 304.8L475.0 302.8L476.0 300.8L477.0 298.9L478.0 297.0L479.0 295.1L480.0 293.3L481.0 291.5L482.0 289.8L483.0 288.1L484.0 286.4L485.0 284.8L486.0 283.3L487.0 281.8L488.0 280.4L489.0 279.1L490.0 277.9L491.0 276.7L492.0 275.5L493.0 274.5L494.0 273.5L495.0 272.7L496.0 271.9L497.0 271.2L498.0 270.5L499.0 270.0L500.0 269.5L501.0 269.2L502.0 268.9L503.0 268.7L504.0 268.6L505.0 268.6L506.0 268.6L507.0 268.8L508.0 269.0L509.0 269.3L510.0 269.7L511.0 270.2L512.0 270.7L513.0 271.4L514.0 272.1L515.0 272.9L516.0 273.8L517.0 274.7L518.0 275.8L519.0 276.9L520.0 278.0L521.0 279.3L522.0 280.6L523.0 282.0L524.0 283.5L525.0 285.0L526.0 286.5L527.0 288.2L528.0 289.9L529.0 291.6L530.0 293.4L531.0 295.3L532.0 297.2L533.0 299.1L534.0 301.1L535.0 303.1L536.0 305.1L537.0 307.2L538.0 309.3L539.0 311.4L540.0 313.6L541.0 315.7L542.0 317.9L543.0 320.1L544.0 322.3L545.0 324.5L546.0 326.7L547.0 328.9L548.0 331.1L549.0 333.3L550.0 335.5L551.0 337.6L552.0 339.8L553.0 341.9L554.0 344.0L555.0 346.1L556.0 348.2L557.0 350.2L558.0 352.2L559.0 354.2L560.0 356.1L561.0 358.1L562.0 359.9L563.0 361.8L564.0 363.6L565.0 365.3L566.0 367.1L567.0 368.8L568.0 370.4L569.0 372.1L570.0 373.6L571.0 375.2L572.0 376.7L573.0 378.2L574.0 379.6L575.0 381.0L576.0 382.4L577.0 383.7L578.0 385.1L579.0 386.3L580.0 387.6L581.0 388.8L582.0 390.0L583.0 391.2L584.0 392.3L585.0 393.4L586.0 394.5L587.0 395.6L588.0 396.6L589.0 397.6L590.0 398.6L591.0 399.6L592.0 400.5L593.0 401.4L594.0 402.3L595.0 403.1L596.0 403.9L597.0 404.7L598.0 405.5L599.0 406.2L600.0 406.9L601.0 407.6L602.0 408.2L603.0 408.8L604.0 409.4L605.0 410.0L606.0 410.5L607.0 411.0L608.0 411.4L609.0 411.9L610.0 412.3L611.0 412.7L612.0 413.0L613.0 413.4L614.0 413.7L615.0 414.0L616.0 414.2L617.0 414.5L618.0 414.7L619.0 414.9L620.0 415.1L621.0 415.3L622.0 415.5L623.0 415.7L624.0 415.8L625.0 416.0L626.0 416.1L627.0 416.2L628.0 416.4L629.0 416.5L630.0 416.6L631.0 416.7L632.0 416.8L633.0 416.9L634.0 416.9L635.0 417.0L636.0 417.1L637.0 417.1L638.0 417.2L639.0 417.2L640.0 417.3L641.0 417.3L642.0 417.4L643.0 417.4L644.0 417.4L645.0 417.4L646.0 417.4L647.0 417.4L648.0 417.4L649.0 417.4L650.0 417.4L651.0 417.4L652.0 417.4L653.0 417.4L654.0 417.4L655.0 417.4L656.0 417.4L657.0 417.4L658.0 417.4L659.0 417.4L660.0 417.4L661.0 417.4L662.0 417.4L663.0 417.4L664.0 417.4L665.0 417.4L666.0 417.4L667.0 417.4L668.0 417.4L669.0 417.4L670.0 417.4L671.0 417.4L672.0 417.4L673.0 417.4L674.0 417.4L675.0 417.4L676.0 417.4L677.0 417.4" fill="none" stroke="#c8344a" stroke-width="2" stroke-linejoin="round"/><path d="M372.0 422.9L373.0 422.9L374.0 422.9L375.0 422.9L376.0 422.9L377.0 422.9L378.0 422.9L379.0 422.9L380.0 422.9L381.0 422.9L382.0 422.9L383.0 422.9L384.0 422.9L385.0 422.9L386.0 422.9L387.0 422.9L388.0 422.9L389.0 422.9L390.0 422.9L391.0 422.8L392.0 422.8L393.0 422.8L394.0 422.8L395.0 422.8L396.0 422.8L397.0 422.8L398.0 422.8L399.0 422.8L400.0 422.8L401.0 422.8L402.0 422.8L403.0 422.8L404.0 422.7L405.0 422.7L406.0 422.7L407.0 422.7L408.0 422.7L409.0 422.7L410.0 422.7L411.0 422.7L412.0 422.6L413.0 422.6L414.0 422.6L415.0 422.6L416.0 422.6L417.0 422.6L418.0 422.6L419.0 422.6L420.0 422.5L421.0 422.5L422.0 422.5L423.0 422.5L424.0 422.5L425.0 422.5L426.0 422.6L427.0 422.6L428.0 422.6L429.0 422.6L430.0 422.6L431.0 422.7L432.0 422.7L433.0 422.7L434.0 422.7L435.0 422.7L436.0 422.7L437.0 422.7L438.0 422.7L439.0 422.7L440.0 422.7L441.0 422.7L442.0 422.6L443.0 422.6L444.0 422.6L445.0 422.5L446.0 422.4L447.0 422.4L448.0 422.3L449.0 422.3L450.0 422.2L451.0 422.1L452.0 422.0L453.0 421.9L454.0 421.8L455.0 421.7L456.0 421.6L457.0 421.5L458.0 421.4L459.0 421.2L460.0 421.1L461.0 421.0L462.0 420.8L463.0 420.7L464.0 420.6L465.0 420.4L466.0 420.2L467.0 420.1L468.0 419.9L469.0 419.8L470.0 419.6L471.0 419.4L472.0 419.3L473.0 419.1L474.0 418.9L475.0 418.7L476.0 418.5L477.0 418.3L478.0 418.1L479.0 417.9L480.0 417.7L481.0 417.4L482.0 417.2L483.0 416.9L484.0 416.6L485.0 416.4L486.0 416.1L487.0 415.8L488.0 415.5L489.0 415.2L490.0 414.9L491.0 414.6L492.0 414.3L493.0 414.0L494.0 413.6L495.0 413.3L496.0 413.0L497.0 412.7L498.0 412.3L499.0 412.0L500.0 411.7L501.0 411.3L502.0 411.0L503.0 410.6L504.0 410.3L505.0 409.9L506.0 409.5L507.0 409.1L508.0 408.7L509.0 408.4L510.0 408.0L511.0 407.6L512.0 407.2L513.0 406.8L514.0 406.3L515.0 405.9L516.0 405.5L517.0 405.1L518.0 404.7L519.0 404.3L520.0 403.9L521.0 403.5L522.0 403.1L523.0 402.7L524.0 402.2L525.0 401.8L526.0 401.4L527.0 401.0L528.0 400.6L529.0 400.2L530.0 399.8L531.0 399.4L532.0 399.0L533.0 398.6L534.0 398.2L535.0 397.8L536.0 397.4L537.0 397.0L538.0 396.6L539.0 396.2L540.0 395.9L541.0 395.5L542.0 395.1L543.0 394.8L544.0 394.4L545.0 394.1L546.0 393.7L547.0 393.4L548.0 393.1L549.0 392.7L550.0 392.4L551.0 392.1L552.0 391.8L553.0 391.5L554.0 391.2L555.0 391.0L556.0 390.7L557.0 390.4L558.0 390.2L559.0 390.0L560.0 389.7L561.0 389.5L562.0 389.3L563.0 389.1L564.0 388.9L565.0 388.8L566.0 388.6L567.0 388.5L568.0 388.3L569.0 388.2L570.0 388.1L571.0 388.0L572.0 387.9L573.0 387.9L574.0 387.8L575.0 387.8L576.0 387.7L577.0 387.7L578.0 387.7L579.0 387.7L580.0 387.7L581.0 387.8L582.0 387.9L583.0 387.9L584.0 388.1L585.0 388.2L586.0 388.3L587.0 388.5L588.0 388.7L589.0 388.8L590.0 389.1L591.0 389.3L592.0 389.5L593.0 389.7L594.0 390.0L595.0 390.2L596.0 390.5L597.0 390.8L598.0 391.1L599.0 391.4L600.0 391.7L601.0 392.0L602.0 392.3L603.0 392.6L604.0 392.9L605.0 393.2L606.0 393.5L607.0 393.9L608.0 394.2L609.0 394.5L610.0 394.8L611.0 395.2L612.0 395.5L613.0 395.8L614.0 396.2L615.0 396.5L616.0 396.8L617.0 397.1L618.0 397.5L619.0 397.8L620.0 398.1L621.0 398.5L622.0 398.8L623.0 399.2L624.0 399.5L625.0 399.8L626.0 400.2L627.0 400.5L628.0 400.9L629.0 401.2L630.0 401.5L631.0 401.9L632.0 402.2L633.0 402.6L634.0 402.9L635.0 403.2L636.0 403.6L637.0 403.9L638.0 404.2L639.0 404.5L640.0 404.9L641.0 405.2L642.0 405.5L643.0 405.8L644.0 406.1L645.0 406.4L646.0 406.7L647.0 406.9L648.0 407.2L649.0 407.5L650.0 407.7L651.0 408.0L652.0 408.2L653.0 408.5L654.0 408.7L655.0 409.0L656.0 409.2L657.0 409.4L658.0 409.6L659.0 409.8L660.0 410.0L661.0 410.2L662.0 410.4L663.0 410.6L664.0 410.8L665.0 410.9L666.0 411.1L667.0 411.3L668.0 411.4L669.0 411.6L670.0 411.7L671.0 411.9L672.0 412.0L673.0 412.2L674.0 412.3L675.0 412.4L676.0 412.5L677.0 412.7" fill="none" stroke="#3a30b4" stroke-width="2" stroke-linejoin="round"/><rect x="372" y="14.5" width="305" height="422.6" fill="none" stroke="#828282" stroke-width="2"/><line x1="372" y1="225.2" x2="677" y2="225.2" stroke="#828282" stroke-width="2"/><line x1="371.4" y1="437.1" x2="371.4" y2="439.1" stroke="#828282" stroke-width="1.6"/><line x1="402.0" y1="437.1" x2="402.0" y2="441.6" stroke="#828282" stroke-width="1.6"/><text x="403.6" y="455.6" font-size="14.4" text-anchor="middle" font-weight="normal" >485</text><line x1="432.6" y1="437.1" x2="432.6" y2="439.1" stroke="#828282" stroke-width="1.6"/><line x1="463.2" y1="437.1" x2="463.2" y2="441.6" stroke="#828282" stroke-width="1.6"/><text x="464.8" y="455.6" font-size="14.4" text-anchor="middle" font-weight="normal" >486</text><line x1="493.8" y1="437.1" x2="493.8" y2="439.1" stroke="#828282" stroke-width="1.6"/><line x1="524.4" y1="437.1" x2="524.4" y2="441.6" stroke="#828282" stroke-width="1.6"/><text x="526.0" y="455.6" font-size="14.4" text-anchor="middle" font-weight="normal" >487</text><line x1="555.0" y1="437.1" x2="555.0" y2="439.1" stroke="#828282" stroke-width="1.6"/><line x1="585.6" y1="437.1" x2="585.6" y2="441.6" stroke="#828282" stroke-width="1.6"/><text x="587.2" y="455.6" font-size="14.4" text-anchor="middle" font-weight="normal" >488</text><line x1="616.2" y1="437.1" x2="616.2" y2="439.1" stroke="#828282" stroke-width="1.6"/><line x1="646.8" y1="437.1" x2="646.8" y2="441.6" stroke="#828282" stroke-width="1.6"/><text x="648.4" y="455.6" font-size="14.4" text-anchor="middle" font-weight="normal" >489</text><line x1="677.4" y1="437.1" x2="677.4" y2="439.1" stroke="#828282" stroke-width="1.6"/><text x="524" y="476.5" font-size="14.4" text-anchor="middle" font-weight="normal" >Binding Energy (eV)</text><text x="0" y="0" font-size="14.4" text-anchor="middle" transform="translate(364.5,227.7) rotate(-90)">Intensity (a.u.)</text><text x="353.7" y="14.8" font-size="19.5" text-anchor="start" font-weight="bold" >b</text><text x="403.5" y="53.4" font-size="14.4" text-anchor="middle" font-weight="normal" >Sn-3X</text><text x="403.6" y="75.8" font-size="14.4" text-anchor="middle" font-weight="normal" >Fresh</text><text x="383.5" y="252.3" font-size="14.4" text-anchor="start" font-weight="normal" >1000 h</text><line x1="540.5" y1="24.7" x2="566.1" y2="24.7" stroke="#2f847f" stroke-width="2.2" opacity="0.8"/><text x="573.1" y="28" font-size="14.4" text-anchor="start" font-weight="normal" >Spectrum</text><line x1="540.5" y1="43.9" x2="566.1" y2="43.9" stroke="#333333" stroke-width="2.2" opacity="0.8"/><text x="573.1" y="48.3" font-size="14.4" text-anchor="start" font-weight="normal" >Background</text><line x1="540.5" y1="70.9" x2="566.1" y2="70.9" stroke="#c8344a" stroke-width="2.2" opacity="0.8"/><text x="573.1" y="75.3" font-size="14.4" text-anchor="start" font-weight="normal" >Sn<tspan font-size="9.8" dy="-5.8">2+</tspan></text><line x1="540.5" y1="98.2" x2="566.1" y2="98.2" stroke="#3a30b4" stroke-width="2.2" opacity="0.8"/><text x="573.1" y="102" font-size="14.4" text-anchor="start" font-weight="normal" >Sn<tspan font-size="9.8" dy="-5.8">4+</tspan></text><path d="M47.0 818.8L48.0 818.5L49.0 818.5L50.0 818.8L51.0 818.9L52.0 818.6L53.0 818.4L54.0 818.1L55.0 817.5L56.0 817.2L57.0 817.3L58.0 816.9L59.0 816.5L60.0 816.6L61.0 816.7L62.0 816.6L63.0 816.9L64.0 817.8L65.0 818.3L66.0 818.1L67.0 818.0L68.0 818.3L69.0 818.5L70.0 818.6L71.0 818.7L72.0 818.6L73.0 818.1L74.0 817.8L75.0 818.1L76.0 818.4L77.0 818.0L78.0 817.2L79.0 816.6L80.0 816.3L81.0 816.5L82.0 817.1L83.0 817.7L84.0 818.1L85.0 818.6L86.0 818.9L87.0 818.7L88.0 818.3L89.0 817.8L90.0 817.4L91.0 817.3L92.0 817.0L93.0 816.6L94.0 816.7L95.0 817.1L96.0 817.2L97.0 816.9L98.0 816.7L99.0 816.6L100.0 816.4L101.0 816.5L102.0 816.6L103.0 816.5L104.0 816.5L105.0 816.6L106.0 816.3L107.0 815.9L108.0 815.8L109.0 815.7L110.0 814.9L111.0 813.7L112.0 813.1L113.0 812.5L114.0 811.6L115.0 810.8L116.0 810.2L117.0 809.6L118.0 809.0L119.0 808.0L120.0 806.2L121.0 804.6L122.0 803.6L123.0 802.7L124.0 800.8L125.0 796.1L126.0 788.3L127.0 778.2L128.0 764.6L129.0 745.4L130.0 719.3L131.0 687.5L132.0 652.0L133.0 615.0L134.0 580.1L135.0 551.8L136.0 533.8L137.0 530.0L138.0 537.8L139.0 557.9L140.0 587.7L141.0 623.6L142.0 660.9L143.0 695.4L144.0 725.6L145.0 750.8L146.0 770.2L147.0 783.7L148.0 792.1L149.0 797.4L150.0 801.6L151.0 805.3L152.0 807.4L153.0 808.1L154.0 808.5L155.0 809.3L156.0 810.1L157.0 810.8L158.0 811.8L159.0 813.0L160.0 814.0L161.0 814.6L162.0 814.9L163.0 814.6L164.0 814.0L165.0 813.5L166.0 814.0L167.0 815.0L168.0 815.8L169.0 816.5L170.0 817.2L171.0 817.7L172.0 817.8L173.0 817.4L174.0 816.7L175.0 816.0L176.0 815.8L177.0 815.7L178.0 815.8L179.0 816.2L180.0 816.7L181.0 816.8L182.0 816.4L183.0 816.2L184.0 816.8L185.0 817.8L186.0 818.3L187.0 818.0L188.0 817.6L189.0 818.1L190.0 819.1L191.0 819.9L192.0 820.1L193.0 819.6L194.0 818.7L195.0 818.4L196.0 818.6L197.0 818.7L198.0 818.6L199.0 818.3L200.0 817.6L201.0 817.1L202.0 817.1L203.0 817.4L204.0 817.7L205.0 818.2L206.0 818.7L207.0 819.0L208.0 818.9L209.0 818.6L210.0 818.2L211.0 817.9L212.0 817.8L213.0 818.0L214.0 818.3L215.0 818.4L216.0 818.2L217.0 818.0L218.0 818.0L219.0 817.7L220.0 817.6L221.0 817.7L222.0 817.8L223.0 817.9L224.0 817.6L225.0 817.4L226.0 817.9L227.0 818.5L228.0 818.3L229.0 817.8L230.0 817.6L231.0 817.9L232.0 818.3L233.0 818.3L234.0 818.4L235.0 818.3L236.0 818.2L237.0 818.6L238.0 819.2L239.0 819.4L240.0 819.4L241.0 819.3L242.0 819.2L243.0 818.9L244.0 818.8L245.0 818.6L246.0 818.5L247.0 818.4L248.0 818.1L249.0 818.2L250.0 819.1L251.0 819.8L252.0 819.7L253.0 819.1L254.0 818.7L255.0 818.5L256.0 818.1L257.0 817.6L258.0 817.2L259.0 817.2L260.0 817.2L261.0 816.9L262.0 816.6L263.0 816.8L264.0 817.8L265.0 819.1L266.0 819.8L267.0 819.7L268.0 819.1L269.0 818.2L270.0 817.7L271.0 818.1L272.0 818.5L273.0 818.7L274.0 818.8L275.0 818.5L276.0 817.8L277.0 817.4L278.0 817.7L279.0 818.2L280.0 818.9L281.0 819.7L282.0 819.9L283.0 819.7L284.0 819.7L285.0 819.9L286.0 819.9L287.0 819.7L288.0 819.6L289.0 820.0L290.0 820.3L291.0 819.9L292.0 819.4L293.0 819.5L294.0 819.7" fill="none" stroke="#111111" stroke-width="2.2" stroke-linejoin="round"/><path d="M47.0 815.7L48.0 816.1L49.0 816.9L50.0 816.9L51.0 816.5L52.0 816.1L53.0 816.0L54.0 815.8L55.0 815.6L56.0 815.5L57.0 815.6L58.0 815.7L59.0 815.3L60.0 814.7L61.0 814.9L62.0 815.3L63.0 815.5L64.0 816.0L65.0 817.3L66.0 818.0L67.0 817.0L68.0 816.1L69.0 815.6L70.0 814.9L71.0 814.2L72.0 814.5L73.0 815.6L74.0 816.5L75.0 816.8L76.0 816.7L77.0 817.2L78.0 817.3L79.0 816.3L80.0 815.3L81.0 815.4L82.0 815.9L83.0 816.2L84.0 815.9L85.0 815.9L86.0 816.9L87.0 817.5L88.0 816.3L89.0 814.4L90.0 813.9L91.0 814.6L92.0 815.5L93.0 816.5L94.0 817.2L95.0 817.3L96.0 816.7L97.0 816.0L98.0 815.7L99.0 816.0L100.0 816.0L101.0 815.5L102.0 814.9L103.0 814.6L104.0 813.9L105.0 812.8L106.0 811.7L107.0 810.8L108.0 809.9L109.0 809.8L110.0 810.7L111.0 811.3L112.0 811.2L113.0 810.9L114.0 810.1L115.0 808.4L116.0 807.1L117.0 807.3L118.0 808.4L119.0 809.2L120.0 808.7L121.0 806.6L122.0 803.8L123.0 802.1L124.0 801.5L125.0 800.5L126.0 797.9L127.0 793.2L128.0 786.5L129.0 777.6L130.0 766.6L131.0 752.6L132.0 735.5L133.0 715.5L134.0 693.8L135.0 672.0L136.0 652.3L137.0 638.8L138.0 628.1L139.0 624.0L140.0 627.9L141.0 639.1L142.0 655.4L143.0 675.1L144.0 696.3L145.0 717.2L146.0 737.1L147.0 755.0L148.0 769.8L149.0 780.7L150.0 788.6L151.0 794.7L152.0 799.6L153.0 802.8L154.0 804.4L155.0 806.0L156.0 807.7L157.0 808.9L158.0 810.1L159.0 811.5L160.0 812.7L161.0 813.2L162.0 813.2L163.0 813.0L164.0 812.9L165.0 813.0L166.0 813.0L167.0 812.9L168.0 813.3L169.0 813.9L170.0 814.4L171.0 814.5L172.0 815.0L173.0 815.9L174.0 816.6L175.0 816.5L176.0 815.9L177.0 815.1L178.0 814.7L179.0 815.0L180.0 815.3L181.0 814.8L182.0 814.1L183.0 813.8L184.0 813.8L185.0 813.9L186.0 813.7L187.0 813.9L188.0 814.4L189.0 814.6L190.0 815.0L191.0 816.1L192.0 816.7L193.0 816.5L194.0 816.2L195.0 815.6L196.0 815.0L197.0 814.8L198.0 815.3L199.0 816.0L200.0 816.1L201.0 815.3L202.0 814.6L203.0 814.5L204.0 815.0L205.0 815.2L206.0 814.9L207.0 815.2L208.0 816.3L209.0 817.2L210.0 817.1L211.0 816.2L212.0 815.7L213.0 815.7L214.0 816.0L215.0 816.5L216.0 817.5L217.0 817.8L218.0 817.2L219.0 816.4L220.0 815.5L221.0 814.9L222.0 815.2L223.0 816.4L224.0 817.6L225.0 817.6L226.0 816.5L227.0 815.2L228.0 815.0L229.0 816.1L230.0 817.0L231.0 817.0L232.0 816.7L233.0 816.4L234.0 816.3L235.0 817.0L236.0 817.5L237.0 817.2L238.0 816.7L239.0 816.1L240.0 815.7L241.0 816.0L242.0 816.3L243.0 816.2L244.0 815.9L245.0 815.2L246.0 814.5L247.0 814.7L248.0 815.2L249.0 815.5L250.0 815.8L251.0 816.1L252.0 816.2L253.0 816.0L254.0 816.0L255.0 816.4L256.0 816.9L257.0 816.6L258.0 815.9L259.0 816.0L260.0 816.8L261.0 817.0L262.0 816.5L263.0 815.8L264.0 815.1L265.0 814.8L266.0 815.3L267.0 816.0L268.0 816.3L269.0 816.5L270.0 817.0L271.0 817.4L272.0 817.4L273.0 817.2L274.0 816.8L275.0 816.6L276.0 816.7L277.0 816.8L278.0 816.6L279.0 816.4L280.0 816.4L281.0 816.0L282.0 815.5L283.0 815.8L284.0 816.9L285.0 817.9L286.0 817.9L287.0 816.8L288.0 815.4L289.0 814.9L290.0 815.2L291.0 815.9L292.0 816.7L293.0 816.9L294.0 816.7" fill="none" stroke="#cc2430" stroke-width="2.2" stroke-linejoin="round"/><path d="M47.0 821.3L48.0 821.7L49.0 821.8L50.0 821.5L51.0 820.9L52.0 820.2L53.0 820.1L54.0 820.2L55.0 819.9L56.0 819.5L57.0 819.4L58.0 819.8L59.0 820.2L60.0 820.7L61.0 821.5L62.0 822.1L63.0 822.2L64.0 822.0L65.0 821.3L66.0 820.6L67.0 820.3L68.0 820.5L69.0 820.8L70.0 821.1L71.0 821.4L72.0 821.1L73.0 820.8L74.0 821.3L75.0 821.7L76.0 821.4L77.0 820.8L78.0 820.2L79.0 819.9L80.0 819.8L81.0 819.5L82.0 819.0L83.0 819.2L84.0 820.7L85.0 821.8L86.0 821.7L87.0 821.4L88.0 821.2L89.0 821.2L90.0 821.5L91.0 821.4L92.0 821.0L93.0 820.7L94.0 820.6L95.0 820.9L96.0 821.6L97.0 821.9L98.0 821.6L99.0 821.4L100.0 821.2L101.0 821.1L102.0 821.3L103.0 821.3L104.0 821.4L105.0 821.7L106.0 821.5L107.0 820.4L108.0 819.1L109.0 818.8L110.0 818.9L111.0 818.7L112.0 818.1L113.0 817.5L114.0 817.2L115.0 817.2L116.0 817.1L117.0 816.6L118.0 816.1L119.0 815.8L120.0 815.2L121.0 814.2L122.0 813.6L123.0 813.1L124.0 812.2L125.0 810.3L126.0 807.2L127.0 802.9L128.0 796.9L129.0 788.6L130.0 777.7L131.0 764.4L132.0 749.8L133.0 734.6L134.0 719.6L135.0 706.1L136.0 696.6L137.0 692.9L138.0 693.5L139.0 700.4L140.0 713.3L141.0 729.9L142.0 747.4L143.0 763.3L144.0 776.5L145.0 786.6L146.0 794.4L147.0 801.2L148.0 806.8L149.0 810.6L150.0 812.8L151.0 814.4L152.0 815.7L153.0 817.1L154.0 817.8L155.0 817.6L156.0 817.7L157.0 818.1L158.0 818.4L159.0 818.7L160.0 818.9L161.0 819.3L162.0 819.3L163.0 819.0L164.0 818.8L165.0 818.7L166.0 818.6L167.0 819.0L168.0 819.6L169.0 820.0L170.0 820.3L171.0 820.5L172.0 820.4L173.0 820.6L174.0 821.3L175.0 821.6L176.0 820.9L177.0 820.2L178.0 820.0L179.0 820.2L180.0 820.9L181.0 821.5L182.0 821.6L183.0 821.3L184.0 821.2L185.0 821.4L186.0 821.6L187.0 821.6L188.0 821.5L189.0 821.9L190.0 822.4L191.0 822.3L192.0 822.1L193.0 822.0L194.0 821.4L195.0 820.8L196.0 820.6L197.0 820.5L198.0 820.6L199.0 820.7L200.0 820.6L201.0 820.3L202.0 820.4L203.0 820.8L204.0 821.1L205.0 821.1L206.0 821.4L207.0 822.0L208.0 822.3L209.0 822.5L210.0 822.2L211.0 821.3L212.0 820.8L213.0 821.3L214.0 821.9L215.0 822.2L216.0 822.3L217.0 822.5L218.0 822.2L219.0 821.9L220.0 821.8L221.0 821.5L222.0 821.3L223.0 821.7L224.0 822.2L225.0 821.7L226.0 820.9L227.0 820.7L228.0 820.8L229.0 820.7L230.0 820.4L231.0 820.4L232.0 820.6L233.0 820.6L234.0 820.4L235.0 820.5L236.0 820.9L237.0 821.3L238.0 821.2L239.0 820.7L240.0 820.5L241.0 821.0L242.0 821.5L243.0 821.7L244.0 821.4L245.0 821.1L246.0 820.9L247.0 820.7L248.0 820.8L249.0 821.1L250.0 821.2L251.0 821.4L252.0 821.8L253.0 821.7L254.0 821.1L255.0 820.5L256.0 820.4L257.0 821.1L258.0 821.6L259.0 821.6L260.0 821.3L261.0 820.9L262.0 820.8L263.0 821.3L264.0 821.5L265.0 821.3L266.0 820.5L267.0 819.6L268.0 819.1L269.0 819.2L270.0 819.4L271.0 819.9L272.0 820.3L273.0 820.4L274.0 820.8L275.0 821.4L276.0 821.3L277.0 821.2L278.0 821.7L279.0 821.6L280.0 820.6L281.0 820.0L282.0 820.5L283.0 821.1L284.0 821.1L285.0 821.0L286.0 821.3L287.0 821.2L288.0 820.7L289.0 820.6L290.0 821.4L291.0 822.8L292.0 823.4L293.0 822.8L294.0 821.9" fill="none" stroke="#2a1cc0" stroke-width="2.2" stroke-linejoin="round"/><rect x="46" y="515.1" width="249" height="319.5" fill="none" stroke="#666" stroke-width="2"/><line x1="46.0" y1="834.6" x2="46.0" y2="841.1" stroke="#555" stroke-width="1.8"/><text x="44.7" y="858.7" font-size="14.4" text-anchor="middle" font-weight="normal" >13</text><line x1="129.0" y1="834.6" x2="129.0" y2="841.1" stroke="#555" stroke-width="1.8"/><text x="129.0" y="858.7" font-size="14.4" text-anchor="middle" font-weight="normal" >14</text><line x1="212.0" y1="834.6" x2="212.0" y2="841.1" stroke="#555" stroke-width="1.8"/><text x="212.0" y="858.7" font-size="14.4" text-anchor="middle" font-weight="normal" >15</text><line x1="295.0" y1="834.6" x2="295.0" y2="841.1" stroke="#555" stroke-width="1.8"/><text x="295.0" y="858.7" font-size="14.4" text-anchor="middle" font-weight="normal" >16</text><text x="132.2" y="878.8" font-size="14.4">2<tspan font-family="Liberation Serif" font-style="italic" font-size="15">θ</tspan> (Degree)</text><text x="0" y="0" font-size="14.4" text-anchor="middle" transform="translate(35.4,677.8) rotate(-90)">Intensity (a.u.)</text><text x="203" y="541.1" font-size="14.4" text-anchor="start" font-weight="normal" >Sn-2X</text><line x1="164.1" y1="567.4" x2="196.7" y2="567.4" stroke="#111111" stroke-width="2.6" stroke-linecap="round"/><text x="203" y="571.8" font-size="14.4" text-anchor="start" font-weight="normal" >Fresh</text><line x1="164.1" y1="590.4" x2="196.7" y2="590.4" stroke="#cc2430" stroke-width="2.6" stroke-linecap="round"/><text x="203" y="594.8" font-size="14.4" text-anchor="start" font-weight="normal" >in air 6 h</text><line x1="164.1" y1="613.4" x2="196.7" y2="613.4" stroke="#2a1cc0" stroke-width="2.6" stroke-linecap="round"/><text x="203" y="617.8" font-size="14.4" text-anchor="start" font-weight="normal" >in air 12 h</text><text x="2.3" y="519.6" font-size="20" text-anchor="start" font-weight="bold" >c</text><path d="M402.0 825.4L403.0 825.0L404.0 824.8L405.0 824.9L406.0 825.4L407.0 826.1L408.0 826.3L409.0 826.3L410.0 826.3L411.0 826.3L412.0 826.3L413.0 826.2L414.0 826.0L415.0 825.8L416.0 825.8L417.0 825.9L418.0 825.7L419.0 825.4L420.0 825.1L421.0 824.9L422.0 824.7L423.0 824.4L424.0 824.0L425.0 823.7L426.0 823.6L427.0 823.3L428.0 823.2L429.0 823.3L430.0 823.7L431.0 824.0L432.0 823.9L433.0 823.7L434.0 823.9L435.0 824.4L436.0 824.9L437.0 824.9L438.0 824.9L439.0 825.1L440.0 825.0L441.0 824.4L442.0 823.8L443.0 823.4L444.0 823.4L445.0 823.7L446.0 823.7L447.0 823.3L448.0 823.0L449.0 822.8L450.0 822.8L451.0 822.7L452.0 822.5L453.0 821.9L454.0 821.0L455.0 820.2L456.0 819.9L457.0 819.7L458.0 819.7L459.0 820.0L460.0 820.5L461.0 820.9L462.0 820.9L463.0 820.5L464.0 819.5L465.0 818.0L466.0 816.9L467.0 816.8L468.0 817.3L469.0 817.7L470.0 817.5L471.0 816.8L472.0 816.3L473.0 815.6L474.0 814.4L475.0 813.3L476.0 812.3L477.0 810.8L478.0 809.4L479.0 807.5L480.0 805.0L481.0 801.5L482.0 795.8L483.0 786.6L484.0 772.6L485.0 753.1L486.0 727.5L487.0 695.5L488.0 658.3L489.0 619.0L490.0 582.3L491.0 553.5L492.0 536.5L493.0 533.6L494.0 544.6L495.0 568.3L496.0 601.1L497.0 637.9L498.0 674.5L499.0 708.0L500.0 736.9L501.0 760.2L502.0 777.3L503.0 789.7L504.0 798.4L505.0 804.0L506.0 807.2L507.0 809.1L508.0 810.9L509.0 812.5L510.0 813.9L511.0 815.0L512.0 815.7L513.0 816.4L514.0 817.3L515.0 818.2L516.0 819.1L517.0 819.8L518.0 819.7L519.0 819.7L520.0 820.2L521.0 820.9L522.0 821.4L523.0 821.9L524.0 822.5L525.0 823.1L526.0 823.3L527.0 823.2L528.0 823.0L529.0 823.0L530.0 822.9L531.0 822.8L532.0 822.9L533.0 822.7L534.0 822.6L535.0 822.8L536.0 822.9L537.0 822.5L538.0 822.2L539.0 822.6L540.0 823.0L541.0 823.0L542.0 823.1L543.0 823.8L544.0 824.2L545.0 824.3L546.0 824.1L547.0 823.8L548.0 823.5L549.0 823.1L550.0 823.0L551.0 823.3L552.0 823.6L553.0 823.4L554.0 822.9L555.0 822.7L556.0 823.1L557.0 823.6L558.0 823.8L559.0 823.6L560.0 823.1L561.0 822.8L562.0 823.0L563.0 823.6L564.0 824.2L565.0 824.4L566.0 824.0L567.0 823.4L568.0 823.3L569.0 823.6L570.0 824.0L571.0 824.4L572.0 824.5L573.0 823.9L574.0 823.1L575.0 823.0L576.0 823.6L577.0 824.2L578.0 824.4L579.0 824.5L580.0 824.4L581.0 823.6L582.0 822.6L583.0 822.8L584.0 823.7L585.0 824.0L586.0 823.3L587.0 822.8L588.0 823.3L589.0 823.7L590.0 823.5L591.0 823.7L592.0 824.5L593.0 824.9L594.0 824.8L595.0 824.7L596.0 824.5L597.0 824.0L598.0 823.8L599.0 824.3L600.0 824.7L601.0 824.9L602.0 824.8L603.0 824.2L604.0 823.9L605.0 824.3L606.0 824.7L607.0 824.8L608.0 824.2L609.0 823.2L610.0 823.0L611.0 823.7L612.0 824.5L613.0 824.6L614.0 824.3L615.0 824.2L616.0 824.1L617.0 824.1L618.0 824.4L619.0 824.8L620.0 825.1L621.0 824.9L622.0 824.4L623.0 823.9L624.0 823.4L625.0 823.0L626.0 823.0L627.0 823.6L628.0 824.2L629.0 824.6L630.0 824.6L631.0 824.3L632.0 823.9L633.0 823.7L634.0 823.7L635.0 824.0L636.0 824.1L637.0 823.9L638.0 823.9L639.0 824.2L640.0 824.4L641.0 824.5L642.0 824.8L643.0 825.1L644.0 825.3L645.0 825.2" fill="none" stroke="#111111" stroke-width="2.2" stroke-linejoin="round"/><path d="M402.0 825.9L403.0 825.6L404.0 825.0L405.0 824.8L406.0 825.3L407.0 825.7L408.0 825.6L409.0 825.6L410.0 826.2L411.0 826.7L412.0 826.8L413.0 827.0L414.0 827.1L415.0 826.9L416.0 826.6L417.0 826.4L418.0 826.1L419.0 825.7L420.0 825.1L421.0 824.3L422.0 823.7L423.0 823.4L424.0 823.1L425.0 822.7L426.0 822.4L427.0 822.4L428.0 822.8L429.0 823.3L430.0 823.7L431.0 823.8L432.0 823.9L433.0 824.1L434.0 824.4L435.0 824.6L436.0 824.4L437.0 824.0L438.0 823.6L439.0 823.3L440.0 823.1L441.0 822.9L442.0 823.1L443.0 823.2L444.0 823.2L445.0 823.1L446.0 823.1L447.0 822.8L448.0 822.4L449.0 822.2L450.0 822.2L451.0 822.3L452.0 821.9L453.0 820.9L454.0 819.9L455.0 819.5L456.0 819.5L457.0 819.6L458.0 819.7L459.0 819.9L460.0 820.3L461.0 820.6L462.0 820.3L463.0 819.3L464.0 818.3L465.0 817.5L466.0 817.0L467.0 817.2L468.0 817.6L469.0 817.5L470.0 816.7L471.0 815.6L472.0 814.9L473.0 814.3L474.0 812.8L475.0 810.6L476.0 807.9L477.0 804.2L478.0 799.8L479.0 793.6L480.0 785.5L481.0 775.0L482.0 761.4L483.0 744.0L484.0 723.4L485.0 700.4L486.0 675.9L487.0 651.3L488.0 628.6L489.0 610.1L490.0 597.7L491.0 592.3L492.0 593.9L493.0 601.6L494.0 615.2L495.0 634.1L496.0 656.6L497.0 679.9L498.0 702.2L499.0 722.9L500.0 742.0L501.0 759.2L502.0 773.3L503.0 784.6L504.0 793.3L505.0 799.7L506.0 804.2L507.0 807.1L508.0 809.3L509.0 811.0L510.0 812.6L511.0 814.4L512.0 816.0L513.0 817.3L514.0 818.0L515.0 818.4L516.0 818.8L517.0 819.3L518.0 819.7L519.0 819.8L520.0 820.3L521.0 820.8L522.0 821.2L523.0 821.8L524.0 822.5L525.0 822.8L526.0 822.5L527.0 821.8L528.0 821.5L529.0 821.8L530.0 822.2L531.0 822.7L532.0 823.0L533.0 822.8L534.0 822.5L535.0 822.6L536.0 822.6L537.0 822.4L538.0 822.3L539.0 822.3L540.0 822.2L541.0 822.2L542.0 822.8L543.0 823.7L544.0 824.2L545.0 824.2L546.0 824.0L547.0 823.6L548.0 823.0L549.0 822.6L550.0 822.6L551.0 823.0L552.0 823.2L553.0 823.0L554.0 822.6L555.0 822.6L556.0 823.2L557.0 823.9L558.0 824.0L559.0 823.3L560.0 822.7L561.0 822.7L562.0 823.2L563.0 823.6L564.0 823.8L565.0 823.6L566.0 823.1L567.0 822.8L568.0 823.2L569.0 823.7L570.0 824.0L571.0 824.3L572.0 824.4L573.0 823.9L574.0 823.1L575.0 822.7L576.0 822.9L577.0 823.3L578.0 823.5L579.0 823.5L580.0 823.4L581.0 823.0L582.0 822.3L583.0 822.5L584.0 823.6L585.0 824.2L586.0 823.8L587.0 823.2L588.0 823.2L589.0 823.3L590.0 823.4L591.0 823.9L592.0 824.6L593.0 824.9L594.0 824.9L595.0 824.9L596.0 824.6L597.0 823.9L598.0 823.7L599.0 824.3L600.0 824.8L601.0 824.8L602.0 824.3L603.0 823.8L604.0 823.8L605.0 824.4L606.0 824.8L607.0 824.6L608.0 823.9L609.0 823.3L610.0 823.3L611.0 823.7L612.0 824.2L613.0 824.0L614.0 823.8L615.0 824.1L616.0 824.6L617.0 824.7L618.0 824.4L619.0 824.2L620.0 824.2L621.0 824.2L622.0 824.0L623.0 824.1L624.0 824.1L625.0 823.8L626.0 823.6L627.0 823.8L628.0 824.1L629.0 824.5L630.0 824.7L631.0 824.5L632.0 823.9L633.0 823.3L634.0 823.0L635.0 823.2L636.0 823.9L637.0 824.2L638.0 824.3L639.0 824.6L640.0 824.9L641.0 825.2L642.0 825.5L643.0 825.6L644.0 825.7L645.0 825.4" fill="none" stroke="#cc2430" stroke-width="2.2" stroke-linejoin="round"/><path d="M402.0 825.6L403.0 825.5L404.0 825.1L405.0 824.9L406.0 825.3L407.0 825.7L408.0 825.6L409.0 825.7L410.0 826.3L411.0 826.7L412.0 826.6L413.0 826.6L414.0 826.6L415.0 826.4L416.0 825.9L417.0 825.6L418.0 825.6L419.0 825.6L420.0 825.5L421.0 825.1L422.0 824.9L423.0 824.9L424.0 824.6L425.0 823.8L426.0 823.2L427.0 823.2L428.0 823.4L429.0 823.9L430.0 824.1L431.0 824.1L432.0 823.7L433.0 823.7L434.0 824.3L435.0 824.9L436.0 824.9L437.0 824.2L438.0 823.5L439.0 823.1L440.0 823.3L441.0 823.5L442.0 823.3L443.0 822.9L444.0 822.8L445.0 823.1L446.0 823.3L447.0 823.1L448.0 822.8L449.0 822.8L450.0 822.9L451.0 823.0L452.0 823.0L453.0 822.7L454.0 822.2L455.0 821.6L456.0 821.1L457.0 820.8L458.0 820.3L459.0 819.9L460.0 820.1L461.0 820.7L462.0 820.9L463.0 820.7L464.0 820.1L465.0 818.7L466.0 817.7L467.0 817.8L468.0 818.5L469.0 818.6L470.0 818.2L471.0 818.1L472.0 818.2L473.0 817.7L474.0 816.5L475.0 815.5L476.0 814.6L477.0 813.0L478.0 811.0L479.0 808.1L480.0 804.2L481.0 798.9L482.0 791.2L483.0 780.2L484.0 765.8L485.0 747.9L486.0 727.0L487.0 704.0L488.0 680.6L489.0 659.5L490.0 643.5L491.0 634.5L492.0 634.0L493.0 642.6L494.0 659.0L495.0 681.1L496.0 706.1L497.0 730.4L498.0 751.6L499.0 769.3L500.0 783.6L501.0 794.4L502.0 801.8L503.0 806.7L504.0 810.5L505.0 813.1L506.0 814.3L507.0 815.1L508.0 815.8L509.0 816.5L510.0 817.1L511.0 818.0L512.0 818.7L513.0 819.3L514.0 820.1L515.0 820.9L516.0 821.6L517.0 821.8L518.0 821.5L519.0 821.4L520.0 822.1L521.0 822.6L522.0 822.6L523.0 822.7L524.0 823.2L525.0 823.8L526.0 824.1L527.0 823.8L528.0 823.1L529.0 822.8L530.0 823.2L531.0 823.8L532.0 824.1L533.0 823.9L534.0 823.6L535.0 823.5L536.0 823.3L537.0 823.2L538.0 823.4L539.0 823.4L540.0 823.0L541.0 823.0L542.0 823.7L543.0 824.3L544.0 824.2L545.0 824.1L546.0 824.1L547.0 823.9L548.0 823.7L549.0 823.6L550.0 823.7L551.0 823.8L552.0 823.9L553.0 823.5L554.0 822.9L555.0 822.6L556.0 822.9L557.0 823.9L558.0 824.6L559.0 824.2L560.0 823.0L561.0 822.3L562.0 822.9L563.0 823.8L564.0 824.0L565.0 823.8L566.0 823.5L567.0 823.2L568.0 823.3L569.0 823.8L570.0 824.5L571.0 825.0L572.0 824.7L573.0 824.0L574.0 823.6L575.0 823.7L576.0 824.1L577.0 824.6L578.0 824.8L579.0 824.3L580.0 823.3L581.0 822.1L582.0 821.4L583.0 822.1L584.0 823.9L585.0 824.9L586.0 824.4L587.0 823.6L588.0 823.6L589.0 823.9L590.0 823.7L591.0 823.7L592.0 824.0L593.0 824.4L594.0 825.0L595.0 825.6L596.0 825.8L597.0 825.2L598.0 824.7L599.0 824.9L600.0 825.0L601.0 824.7L602.0 824.2L603.0 823.8L604.0 824.0L605.0 825.0L606.0 825.6L607.0 825.0L608.0 823.8L609.0 823.3L610.0 823.3L611.0 823.5L612.0 823.7L613.0 823.6L614.0 823.4L615.0 823.5L616.0 823.8L617.0 824.0L618.0 824.2L619.0 824.3L620.0 824.4L621.0 824.5L622.0 824.6L623.0 824.5L624.0 824.4L625.0 824.1L626.0 823.9L627.0 824.3L628.0 824.6L629.0 824.7L630.0 824.8L631.0 824.9L632.0 824.7L633.0 824.4L634.0 824.2L635.0 824.5L636.0 824.8L637.0 824.8L638.0 824.9L639.0 825.1L640.0 825.3L641.0 825.4L642.0 825.6L643.0 825.7L644.0 825.6L645.0 825.5" fill="none" stroke="#2a1cc0" stroke-width="2.2" stroke-linejoin="round"/><rect x="401" y="517.8" width="244.79999999999995" height="315.4000000000001" fill="none" stroke="#666" stroke-width="2"/><line x1="401.0" y1="833.2" x2="401.0" y2="839.7" stroke="#555" stroke-width="1.8"/><text x="401.0" y="858.5" font-size="14.4" text-anchor="middle" font-weight="normal" >13</text><line x1="482.6" y1="833.2" x2="482.6" y2="839.7" stroke="#555" stroke-width="1.8"/><text x="482.6" y="858.5" font-size="14.4" text-anchor="middle" font-weight="normal" >14</text><line x1="564.2" y1="833.2" x2="564.2" y2="839.7" stroke="#555" stroke-width="1.8"/><text x="564.2" y="858.5" font-size="14.4" text-anchor="middle" font-weight="normal" >15</text><line x1="645.8" y1="833.2" x2="645.8" y2="839.7" stroke="#555" stroke-width="1.8"/><text x="645.8" y="858.5" font-size="14.4" text-anchor="middle" font-weight="normal" >16</text><text x="486.4" y="879" font-size="14.4">2<tspan font-family="Liberation Serif" font-style="italic" font-size="15">θ</tspan> (Degree)</text><text x="0" y="0" font-size="14.4" text-anchor="middle" transform="translate(390.4,677.8) rotate(-90)">Intensity (a.u.)</text><text x="561.3" y="542.5" font-size="14.4" text-anchor="start" font-weight="normal" >Sn-3X</text><line x1="517.6" y1="568.5" x2="550.1" y2="568.5" stroke="#111111" stroke-width="2.6" stroke-linecap="round"/><text x="557" y="573.8" font-size="14.4" text-anchor="start" font-weight="normal" >Fresh</text><line x1="517.6" y1="591.9" x2="550.1" y2="591.9" stroke="#cc2430" stroke-width="2.6" stroke-linecap="round"/><text x="557" y="596" font-size="14.4" text-anchor="start" font-weight="normal" >in air 6 h</text><line x1="517.6" y1="614.8" x2="550.1" y2="614.8" stroke="#2a1cc0" stroke-width="2.6" stroke-linecap="round"/><text x="557" y="619.2" font-size="14.4" text-anchor="start" font-weight="normal" >in air 12 h</text><text x="353.3" y="519.5" font-size="20" text-anchor="start" font-weight="bold" >d</text></svg>
</body></html>
